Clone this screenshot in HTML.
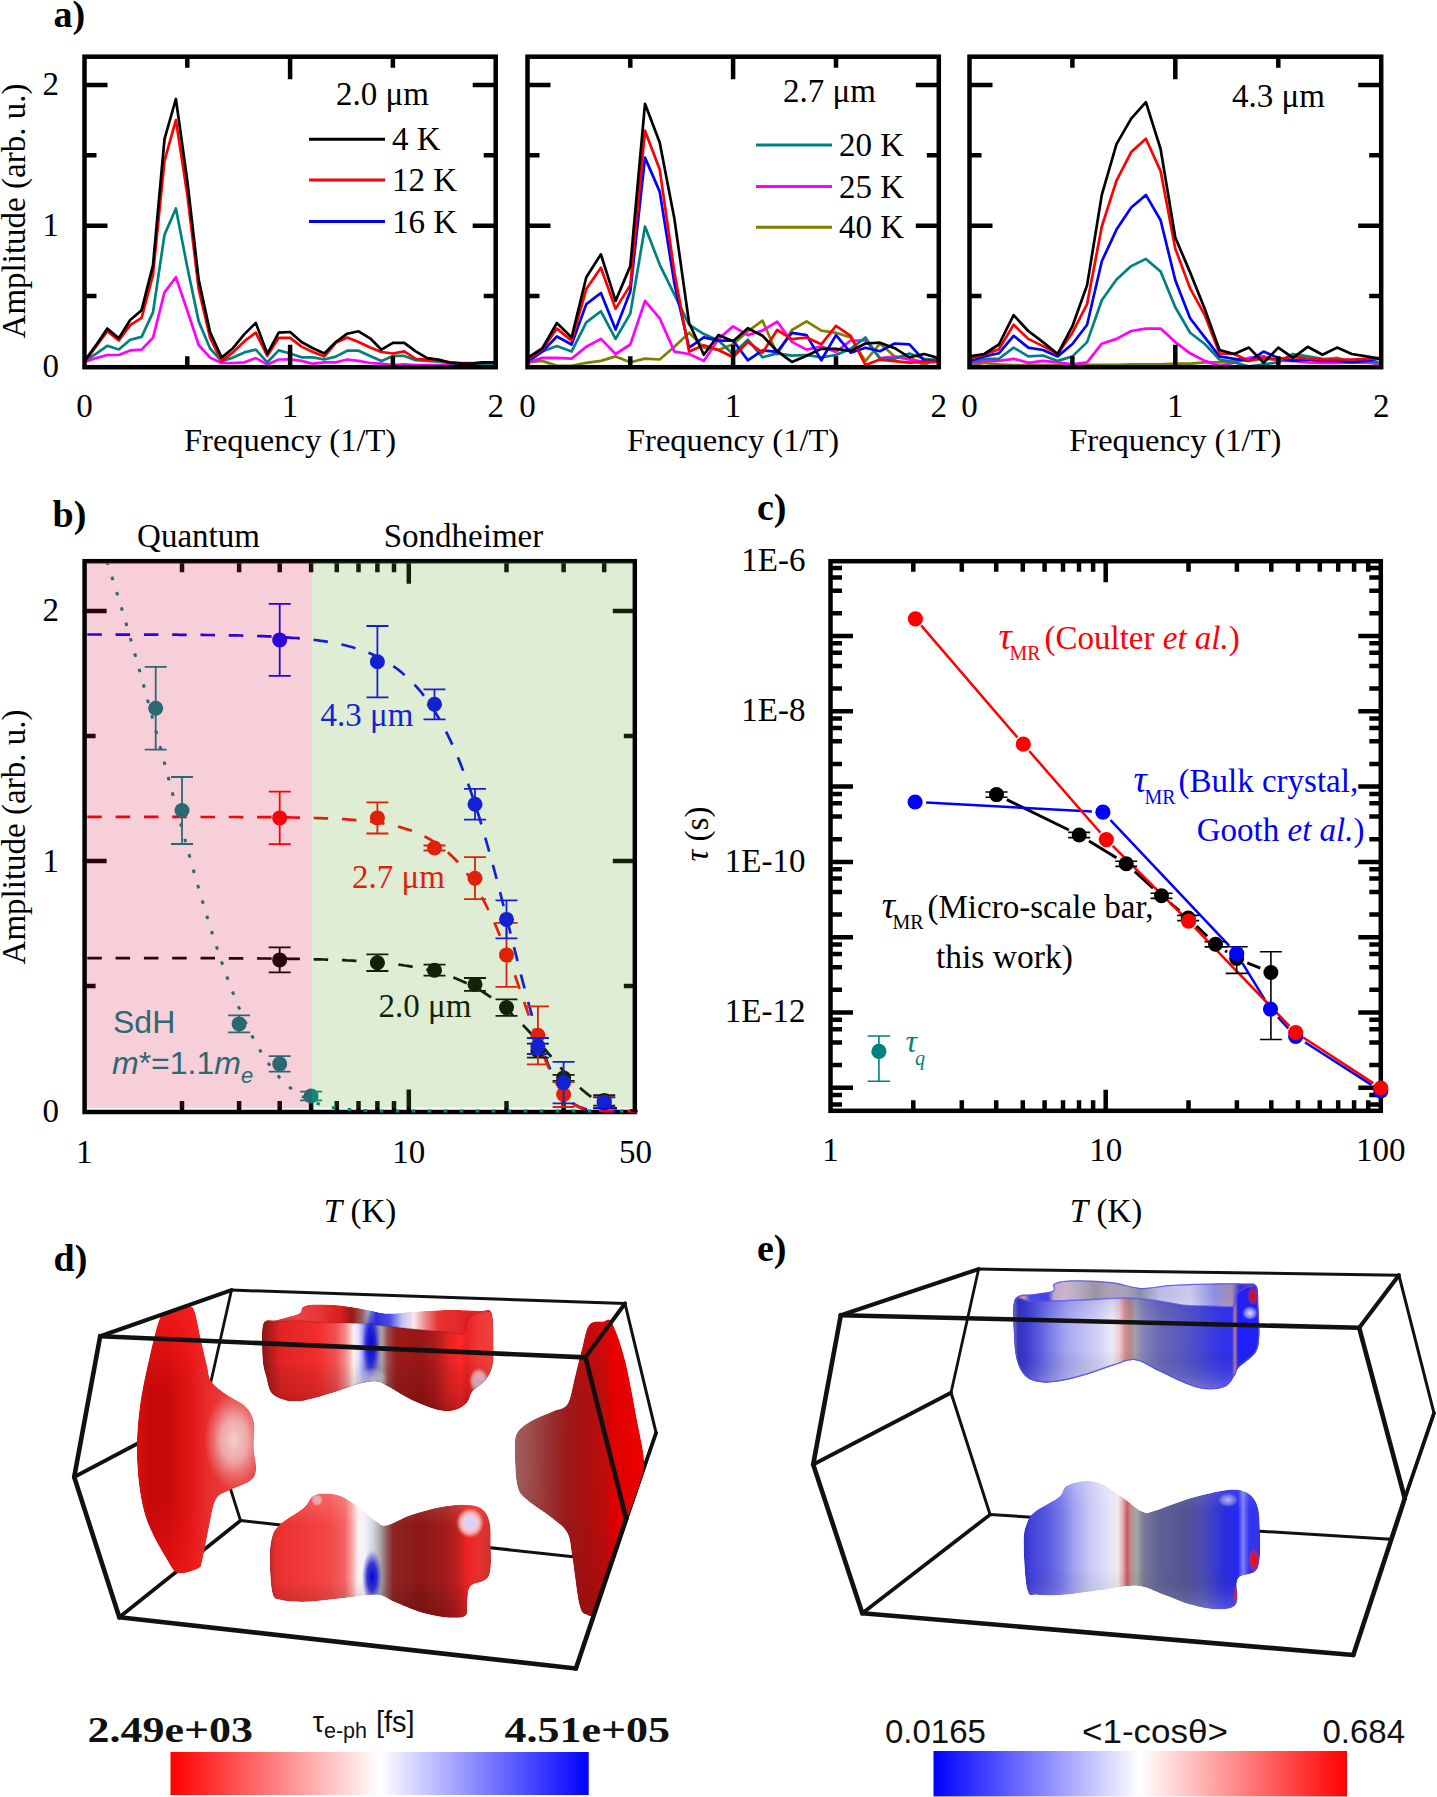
<!DOCTYPE html>
<html><head><meta charset="utf-8"><style>
html,body{margin:0;padding:0;background:#fff;overflow:hidden;}
svg{display:block;}
text{font-family:"Liberation Serif",serif;}
.tl{font-size:33px;fill:#000;}
.plab{font-size:38px;font-weight:bold;fill:#000;}
.sans{font-family:"Liberation Sans",sans-serif;}
</style></head><body>
<svg width="1437" height="1797" viewBox="0 0 1437 1797">
<rect width="1437" height="1797" fill="#fff"/>
<text x="53.5" y="26.5" class="plab">a)</text>
<text x="59" y="377.3" class="tl" text-anchor="end">0</text>
<text x="59" y="236.3" class="tl" text-anchor="end">1</text>
<text x="59" y="95.3" class="tl" text-anchor="end">2</text>
<text transform="translate(25,211) rotate(-90)" class="tl" text-anchor="middle">Amplitude (arb. u.)</text>
<polyline points="84.5,362.1 95.9,358.1 107.3,355 118.8,355 130.2,350.4 141.6,349.6 153,337.8 164.5,292.4 175.9,277.2 187.3,310.6 198.7,345 210.1,357.6 221.6,363 233,363 244.4,362.3 255.8,358.1 267.3,364.4 278.7,359.5 290.1,359.3 301.5,360.9 312.9,363.7 324.4,362.3 335.8,362.3 347.2,359.5 358.6,360.9 370.1,363 381.5,363.7 392.9,365.1 404.3,364.4 415.7,365.1 427.2,365.1 438.6,365.1 450,365.1 461.4,365.1 472.9,365.1 484.3,365.1 495.7,365.1" fill="none" stroke="#ff00ff" stroke-width="2.7" stroke-linejoin="round"/>
<polyline points="84.5,361.1 95.9,353.8 107.3,345.8 118.8,349.5 130.2,339.7 141.6,336.9 153,312.4 164.5,234.7 175.9,208.5 187.3,267.2 198.7,321.4 210.1,348.5 221.6,361.1 233,357.6 244.4,352.4 255.8,349.6 267.3,362.3 278.7,350.4 290.1,353.5 301.5,357.3 312.9,357.3 324.4,359.5 335.8,356.6 347.2,350.7 358.6,350.7 370.1,355.9 381.5,360.9 392.9,355.9 404.3,355.9 415.7,360.2 427.2,360.9 438.6,361.6 450,363 461.4,363.7 472.9,363.7 484.3,363.7 495.7,363.7" fill="none" stroke="#008080" stroke-width="2.7" stroke-linejoin="round"/>
<polyline points="84.5,362.1 95.9,346.8 107.3,331.3 118.8,340.5 130.2,325.1 141.6,317.9 153,274.6 164.5,160.7 175.9,120.1 187.3,194.7 198.7,289.1 210.1,337.8 221.6,361.1 233,352.4 244.4,341.2 255.8,332.7 267.3,355.8 278.7,337.8 290.1,337.9 301.5,346.6 312.9,352 324.4,356.5 335.8,342.8 347.2,337.5 358.6,342 370.1,347.5 381.5,352 392.9,353.5 404.3,351.3 415.7,358.8 427.2,359.6 438.6,360.3 450,362.3 461.4,363 472.9,363 484.3,362.3 495.7,363" fill="none" stroke="#ff0000" stroke-width="2.7" stroke-linejoin="round"/>
<polyline points="84.5,361.1 95.9,345.4 107.3,328.5 118.8,338.3 130.2,320 141.6,310.2 153,265.1 164.5,139.1 175.9,99 187.3,180.6 198.7,279.9 210.1,332.3 221.6,357.6 233,348.2 244.4,334.1 255.8,322.9 267.3,353.8 278.7,332.7 290.1,332 301.5,342 312.9,348.2 324.4,353.5 335.8,342 347.2,333.7 358.6,331.3 370.1,338.3 381.5,349.7 392.9,342.8 404.3,342.8 415.7,351.3 427.2,358.1 438.6,359.6 450,362.7 461.4,363.7 472.9,363.7 484.3,362.3 495.7,362.3" fill="none" stroke="#000000" stroke-width="2.7" stroke-linejoin="round"/>
<path d="M187.3,56.7V67.7M187.3,367.2V356.2M290.1,56.7V79.2M290.1,367.2V344.7M392.9,56.7V67.7M392.9,367.2V356.2M84.5,296.1H96.5M495.7,296.1H483.7M84.5,225.7H107.5M495.7,225.7H472.7M84.5,155.3H96.5M495.7,155.3H483.7M84.5,84.9H107.5M495.7,84.9H472.7" stroke="#000" stroke-width="4.5" fill="none"/>
<rect x="84.5" y="56.7" width="411.2" height="310.5" fill="none" stroke="#000" stroke-width="4.5"/>
<text x="84.5" y="417" class="tl" text-anchor="middle">0</text>
<text x="290.1" y="417" class="tl" text-anchor="middle">1</text>
<text x="495.7" y="417" class="tl" text-anchor="middle">2</text>
<text x="290.1" y="451" class="tl" text-anchor="middle" style="font-size:32.5px">Frequency (1/T)</text>
<text x="336" y="105" class="tl">2.0 μm</text>
<path d="M309,139.3H385" stroke="#000000" stroke-width="3"/>
<text x="392" y="150.3" class="tl">4 K</text>
<path d="M309,180H385" stroke="#ff0000" stroke-width="3"/>
<text x="392" y="191" class="tl">12 K</text>
<path d="M309,221.5H385" stroke="#0000ff" stroke-width="3"/>
<text x="392" y="232.5" class="tl">16 K</text>
<polyline points="527.5,362.3 542.2,360.9 556.9,365.9 571.6,365.9 586.3,362.8 600.9,360.9 615.6,356.4 630.3,362.3 645,358.6 659.7,359.5 674.4,346.8 689.1,332.7 703.8,347.6 718.5,350 733.1,344.3 747.8,331.3 762.5,320.6 777.2,354.3 791.9,330 806.6,321.3 821.3,330.6 836,332.8 850.7,337.5 865.4,361.1 880,343.5 894.7,356.5 909.4,357.3 924.1,365 938.8,357.3" fill="none" stroke="#808000" stroke-width="2.7" stroke-linejoin="round"/>
<polyline points="527.5,362.8 542.2,357.9 556.9,357.9 571.6,358.6 586.3,346.8 600.9,338.9 615.6,354 630.3,344.5 645,300.9 659.7,318.3 674.4,351.6 689.1,354 703.8,360.9 718.5,338.9 733.1,326.4 747.8,335.1 762.5,330.6 777.2,321.7 791.9,341.9 806.6,349.6 821.3,346.5 836,351.9 850.7,340.5 865.4,340.5 880,358.1 894.7,356.5 909.4,359.6 924.1,361.9 938.8,361.9" fill="none" stroke="#ff00ff" stroke-width="2.7" stroke-linejoin="round"/>
<polyline points="527.5,362.3 542.2,351.6 556.9,346.1 571.6,351.6 586.3,322.4 600.9,311.3 615.6,338.9 630.3,313.6 645,226.5 659.7,264.6 674.4,294.6 689.1,324.7 703.8,334.1 718.5,340.6 733.1,354.3 747.8,339.7 762.5,357.3 777.2,353.4 791.9,355.7 806.6,355 821.3,357.3 836,355 850.7,348.8 865.4,337.5 880,358.8 894.7,358.8 909.4,353.4 924.1,358.8 938.8,360.3" fill="none" stroke="#008080" stroke-width="2.7" stroke-linejoin="round"/>
<polyline points="527.5,360.9 542.2,351.6 556.9,336.5 571.6,344.5 586.3,304.1 600.9,293 615.6,329.5 630.3,291.5 645,157.6 659.7,191.6 674.4,283.6 689.1,347.6 703.8,337.4 718.5,340.6 733.1,340.5 747.8,360.3 762.5,350.4 777.2,351.9 791.9,332.8 806.6,335.1 821.3,360.3 836,335.1 850.7,352.7 865.4,347.8 880,351.2 894.7,343.5 909.4,344.3 924.1,360.3 938.8,361.1" fill="none" stroke="#0000ff" stroke-width="2.7" stroke-linejoin="round"/>
<polyline points="527.5,359.5 542.2,349.6 556.9,328.6 571.6,340.6 586.3,289.1 600.9,267.7 615.6,308.9 630.3,285.1 645,130.7 659.7,169.4 674.4,272.4 689.1,351.6 703.8,345.2 718.5,350 733.1,357.3 747.8,341.9 762.5,352.7 777.2,330 791.9,339.2 806.6,337.5 821.3,344.3 836,325.9 850.7,335.8 865.4,365 880,359.6 894.7,361.1 909.4,362.6 924.1,361.9 938.8,361.9" fill="none" stroke="#ff0000" stroke-width="2.7" stroke-linejoin="round"/>
<polyline points="527.5,357.9 542.2,348.5 556.9,323 571.6,337.4 586.3,277.2 600.9,254.3 615.6,300.9 630.3,266.1 645,103.8 659.7,142.5 674.4,218.7 689.1,323 703.8,354.8 718.5,335 733.1,341.2 747.8,328.2 762.5,335.8 777.2,351.2 791.9,361.9 806.6,355.7 821.3,348.8 836,348.8 850.7,351 865.4,343.5 880,342.7 894.7,348.2 909.4,357.3 924.1,354 938.8,358.1" fill="none" stroke="#000000" stroke-width="2.7" stroke-linejoin="round"/>
<path d="M630.3,56.7V67.7M630.3,367.2V356.2M733.1,56.7V79.2M733.1,367.2V344.7M836,56.7V67.7M836,367.2V356.2M527.5,296.1H539.5M938.8,296.1H926.8M527.5,225.7H550.5M938.8,225.7H915.8M527.5,155.3H539.5M938.8,155.3H926.8M527.5,84.9H550.5M938.8,84.9H915.8" stroke="#000" stroke-width="4.5" fill="none"/>
<rect x="527.5" y="56.7" width="411.3" height="310.5" fill="none" stroke="#000" stroke-width="4.5"/>
<text x="527.5" y="417" class="tl" text-anchor="middle">0</text>
<text x="733.1" y="417" class="tl" text-anchor="middle">1</text>
<text x="938.8" y="417" class="tl" text-anchor="middle">2</text>
<text x="733.1" y="451" class="tl" text-anchor="middle" style="font-size:32.5px">Frequency (1/T)</text>
<text x="783" y="102" class="tl">2.7 μm</text>
<path d="M756,145H832" stroke="#008080" stroke-width="3"/>
<text x="839" y="156" class="tl">20 K</text>
<path d="M756,186.6H832" stroke="#ff00ff" stroke-width="3"/>
<text x="839" y="197.6" class="tl">25 K</text>
<path d="M756,227.3H832" stroke="#808000" stroke-width="3"/>
<text x="839" y="238.3" class="tl">40 K</text>
<polyline points="969.5,365.9 984.2,362.8 998.9,364.4 1013.6,365.1 1028.3,365.1 1043,365.1 1057.7,365.1 1072.4,365.1 1087.1,364.8 1101.8,364.8 1116.5,364.8 1131.2,364.4 1145.9,364.4 1160.6,364.4 1175.3,363.7 1190.1,363.7 1204.8,362.3 1219.5,362.3 1234.2,360.9 1248.9,359.5 1263.6,358.8 1278.3,359.5 1293,359.5 1307.7,360.2 1322.4,359.5 1337.1,357.9 1351.8,362.3 1366.5,362.3 1381.2,363" fill="none" stroke="#808000" stroke-width="2.7" stroke-linejoin="round"/>
<polyline points="969.5,363.7 984.2,360.9 998.9,360.9 1013.6,358.8 1028.3,362.8 1043,360.9 1057.7,362.3 1072.4,364.4 1087.1,362.3 1101.8,343.7 1116.5,338.9 1131.2,331 1145.9,328.6 1160.6,328.6 1175.3,342.1 1190.1,353.3 1204.8,360.9 1219.5,365.9 1234.2,362.8 1248.9,357.9 1263.6,356.4 1278.3,360.9 1293,360.9 1307.7,362.3 1322.4,362.8 1337.1,362.8 1351.8,362.3 1366.5,362.3 1381.2,364.4" fill="none" stroke="#ff00ff" stroke-width="2.7" stroke-linejoin="round"/>
<polyline points="969.5,362.8 984.2,358.8 998.9,358.8 1013.6,347.6 1028.3,356.4 1043,355.5 1057.7,360.9 1072.4,356.4 1087.1,342.1 1101.8,300.2 1116.5,279.5 1131.2,266.1 1145.9,258.9 1160.6,271.6 1175.3,307.2 1190.1,332.7 1204.8,344 1219.5,359.5 1234.2,362.3 1248.9,366.5 1263.6,364.4 1278.3,362.3 1293,354 1307.7,356.4 1322.4,358.8 1337.1,359.5 1351.8,360.9 1366.5,360.9 1381.2,362.3" fill="none" stroke="#008080" stroke-width="2.7" stroke-linejoin="round"/>
<polyline points="969.5,360.9 984.2,356.4 998.9,353.3 1013.6,335.8 1028.3,347.6 1043,350 1057.7,356.4 1072.4,344 1087.1,324.7 1101.8,261.3 1116.5,229.6 1131.2,207.5 1145.9,194.9 1160.6,220.2 1175.3,280.3 1190.1,318.3 1204.8,337.4 1219.5,356.4 1234.2,358.8 1248.9,360.9 1263.6,351.6 1278.3,357.9 1293,360.9 1307.7,359.5 1322.4,360.9 1337.1,360.9 1351.8,362.3 1366.5,360.9 1381.2,357.9" fill="none" stroke="#0000ff" stroke-width="2.7" stroke-linejoin="round"/>
<polyline points="969.5,358.8 984.2,354.8 998.9,349.2 1013.6,324.7 1028.3,338.9 1043,346.1 1057.7,354 1072.4,332.7 1087.1,304.1 1101.8,226.5 1116.5,180.6 1131.2,152.1 1145.9,138.7 1160.6,171.1 1175.3,248.7 1190.1,288.4 1204.8,315.1 1219.5,353.3 1234.2,354 1248.9,360.9 1263.6,357.9 1278.3,359.5 1293,356.4 1307.7,358.8 1322.4,359.5 1337.1,359.5 1351.8,359.5 1366.5,358.8 1381.2,357.9" fill="none" stroke="#ff0000" stroke-width="2.7" stroke-linejoin="round"/>
<polyline points="969.5,356.4 984.2,354 998.9,344.5 1013.6,315.1 1028.3,331 1043,342.1 1057.7,354 1072.4,326.2 1087.1,285.1 1101.8,194.9 1116.5,144.2 1131.2,118.7 1145.9,102.2 1160.6,149 1175.3,237.5 1190.1,272.4 1204.8,308.9 1219.5,350 1234.2,354 1248.9,347.6 1263.6,362.7 1278.3,347.6 1293,357.9 1307.7,346.8 1322.4,354.8 1337.1,347.6 1351.8,354 1366.5,356.4 1381.2,358.8" fill="none" stroke="#000000" stroke-width="2.7" stroke-linejoin="round"/>
<path d="M1072.4,56.7V67.7M1072.4,367.2V356.2M1175.3,56.7V79.2M1175.3,367.2V344.7M1278.3,56.7V67.7M1278.3,367.2V356.2M969.5,296.1H981.5M1381.2,296.1H1369.2M969.5,225.7H992.5M1381.2,225.7H1358.2M969.5,155.3H981.5M1381.2,155.3H1369.2M969.5,84.9H992.5M1381.2,84.9H1358.2" stroke="#000" stroke-width="4.5" fill="none"/>
<rect x="969.5" y="56.7" width="411.7" height="310.5" fill="none" stroke="#000" stroke-width="4.5"/>
<text x="969.5" y="417" class="tl" text-anchor="middle">0</text>
<text x="1175.3" y="417" class="tl" text-anchor="middle">1</text>
<text x="1381.2" y="417" class="tl" text-anchor="middle">2</text>
<text x="1175.3" y="451" class="tl" text-anchor="middle" style="font-size:32.5px">Frequency (1/T)</text>
<text x="1232" y="107" class="tl">4.3 μm</text>
<text x="52.5" y="527" class="plab">b)</text>
<text x="198.5" y="546.5" class="tl" text-anchor="middle">Quantum</text>
<text x="463.5" y="546.5" class="tl" text-anchor="middle">Sondheimer</text>
<rect x="84.6" y="561.2" width="550.2" height="550.8" fill="none" stroke="#000" stroke-width="4.5"/>
<svg x="82.1" y="563.2" width="555.2" height="551.3" viewBox="82.1 563.2 555.2 551.3" overflow="hidden">
<path d="M182,561.2V572.2M182,1112V1101M239.1,561.2V572.2M239.1,1112V1101M279.7,561.2V572.2M279.7,1112V1101M311.1,561.2V572.2M311.1,1112V1101M336.8,561.2V572.2M336.8,1112V1101M358.5,561.2V572.2M358.5,1112V1101M377.4,561.2V572.2M377.4,1112V1101M394,561.2V572.2M394,1112V1101M408.8,561.2V583.7M408.8,1112V1089.5M506.5,561.2V572.2M506.5,1112V1101M563.6,561.2V572.2M563.6,1112V1101M604.2,561.2V572.2M604.2,1112V1101M84.6,986H95.6M634.8,986H623.8M84.6,861H106.6M634.8,861H612.8M84.6,735.9H95.6M634.8,735.9H623.8M84.6,610.9H106.6M634.8,610.9H612.8" stroke="#000" stroke-width="4.5" fill="none"/>
<polyline points="91.2,516.2 93.1,521.4 95,526.7 96.9,532 98.8,537.4 100.7,542.9 102.6,548.5 104.5,554.2 106.4,559.9 108.3,565.7 110.2,571.6 112.1,577.5 114,583.5 115.9,589.6 117.8,595.8 119.7,602 121.6,608.3 123.5,614.7 125.4,621.1 127.3,627.5 129.2,634.1 131.1,640.7 133,647.3 134.9,654 136.8,660.8 138.7,667.6 140.6,674.4 142.5,681.3 144.4,688.2 146.3,695.2 148.2,702.2 150.1,709.2 152,716.3 153.9,723.4 155.8,730.5 157.7,737.6 159.6,744.7 161.5,751.9 163.4,759 165.3,766.2 167.2,773.3 169.1,780.5 171,787.6 172.9,794.8 174.8,801.9 176.7,809 178.6,816.1 180.5,823.1 182.4,830.1 184.3,837.1 186.2,844.1 188.1,851 190,857.8 191.9,864.6 193.8,871.4 195.7,878.1 197.6,884.7 199.5,891.3 201.4,897.8 203.3,904.2 205.2,910.5 207.1,916.8 209,923 210.9,929.1 212.8,935.1 214.7,941 216.6,946.9 218.5,952.6 220.4,958.2 222.3,963.8 224.2,969.2 226.1,974.5 228,979.7 229.9,984.8 231.8,989.8 233.7,994.7 235.6,999.5 237.5,1004.1 239.4,1008.7 241.3,1013.1 243.2,1017.4 245.1,1021.6 247,1025.6 248.9,1029.6 250.8,1033.4 252.7,1037.1 254.6,1040.7 256.5,1044.2 258.4,1047.5 260.3,1050.8 262.2,1053.9 264.1,1056.9 266,1059.8 267.9,1062.6 269.8,1065.3 271.7,1067.9 273.6,1070.4 275.5,1072.7 277.4,1075 279.3,1077.2 281.2,1079.2 283.1,1081.2 285,1083.1 286.9,1084.9 288.8,1086.6 290.7,1088.2 292.6,1089.7 294.5,1091.2 296.4,1092.6 298.3,1093.9 300.2,1095.1 302.1,1096.2 304,1097.3 305.9,1098.4 307.8,1099.3 309.7,1100.2 311.6,1101.1 313.5,1101.9 315.4,1102.6 317.3,1103.3 319.2,1104 321.1,1104.6 323,1105.1 324.9,1105.6 326.8,1106.1 328.7,1106.6 330.6,1107 332.5,1107.4 334.4,1107.7 336.3,1108 338.2,1108.3 340.1,1108.6 342,1108.8 343.9,1109.1 345.8,1109.3 347.7,1109.5 349.6,1109.6 351.5,1109.8 353.4,1109.9 355.3,1110.1 357.2,1110.2 359.1,1110.3 361,1110.4 362.9,1110.5 364.8,1110.5 366.7,1110.6 368.6,1110.7 370.5,1110.7 372.4,1110.8 374.3,1110.8 376.2,1110.8 378.1,1110.9 380,1110.9 381.9,1110.9 383.8,1111 385.7,1111 387.6,1111 389.5,1111 391.4,1111 393.3,1111 395.2,1111 397.1,1111 399,1111.1 400.9,1111.1 402.8,1111.1 404.7,1111.1 406.7,1111.1 408.6,1111.1 410.5,1111.1 412.4,1111.1 414.3,1111.1 416.2,1111.1 418.1,1111.1 420,1111.1 421.9,1111.1 423.8,1111.1 425.7,1111.1 427.6,1111.1 429.5,1111.1 431.4,1111.1 433.3,1111.1 435.2,1111.1 437.1,1111.1 439,1111.1 440.9,1111.1 442.8,1111.1 444.7,1111.1 446.6,1111.1 448.5,1111.1 450.4,1111.1 452.3,1111.1 454.2,1111.1 456.1,1111.1 458,1111.1 459.9,1111.1 461.8,1111.1 463.7,1111.1 465.6,1111.1 467.5,1111.1 469.4,1111.1 471.3,1111.1 473.2,1111.1 475.1,1111.1 477,1111.1 478.9,1111.1 480.8,1111.1 482.7,1111.1 484.6,1111.1 486.5,1111.1 488.4,1111.1 490.3,1111.1 492.2,1111.1 494.1,1111.1 496,1111.1 497.9,1111.1 499.8,1111.1 501.7,1111.1 503.6,1111.1 505.5,1111.1 507.4,1111.1 509.3,1111.1 511.2,1111.1 513.1,1111.1 515,1111.1 516.9,1111.1 518.8,1111.1 520.7,1111.1 522.6,1111.1 524.5,1111.1 526.4,1111.1 528.3,1111.1 530.2,1111.1 532.1,1111.1 534,1111.1 535.9,1111.1 537.8,1111.1 539.7,1111.1 541.6,1111.1 543.5,1111.1 545.4,1111.1 547.3,1111.1 549.2,1111.1 551.1,1111.1 553,1111.1 554.9,1111.1 556.8,1111.1 558.7,1111.1 560.6,1111.1 562.5,1111.1 564.4,1111.1 566.3,1111.1 568.2,1111.1 570.1,1111.1 572,1111.1 573.9,1111.1 575.8,1111.1 577.7,1111.1 579.6,1111.1 581.5,1111.1 583.4,1111.1 585.3,1111.1 587.2,1111.1 589.1,1111.1 591,1111.1 592.9,1111.1 594.8,1111.1 596.7,1111.1 598.6,1111.1 600.5,1111.1 602.4,1111.1 604.3,1111.1 606.2,1111.1 608.1,1111.1 610,1111.1 611.9,1111.1 613.8,1111.1 615.7,1111.1 617.6,1111.1 619.5,1111.1 621.4,1111.1 623.3,1111.1 625.2,1111.1 627.1,1111.1 629,1111.1 630.9,1111.1 632.8,1111.1 634.7,1111.1 636.6,1111.1 638.5,1111.1 640.4,1111.1 642.3,1111.1 644.2,1111.1 646.1,1111.1 648,1111.1 649.9,1111.1 651.8,1111.1 653.7,1111.1 655.6,1111.1 657.5,1111.1 659.4,1111.1 661.3,1111.1" fill="none" stroke="#008080" stroke-width="3" stroke-dasharray="3.5 12.5"/>
<polyline points="84.3,634.5 87.2,634.5 90.1,634.5 93,634.5 95.8,634.5 98.7,634.5 101.6,634.6 104.5,634.6 107.4,634.6 110.3,634.6 113.2,634.6 116,634.6 118.9,634.6 121.8,634.6 124.7,634.6 127.6,634.6 130.5,634.6 133.3,634.6 136.2,634.6 139.1,634.6 142,634.6 144.9,634.6 147.8,634.6 150.7,634.6 153.5,634.6 156.4,634.7 159.3,634.7 162.2,634.7 165.1,634.7 168,634.7 170.9,634.7 173.7,634.7 176.6,634.7 179.5,634.8 182.4,634.8 185.3,634.8 188.2,634.8 191,634.8 193.9,634.9 196.8,634.9 199.7,634.9 202.6,634.9 205.5,635 208.4,635 211.2,635 214.1,635.1 217,635.1 219.9,635.1 222.8,635.2 225.7,635.2 228.6,635.3 231.4,635.3 234.3,635.4 237.2,635.4 240.1,635.5 243,635.6 245.9,635.7 248.7,635.7 251.6,635.8 254.5,635.9 257.4,636 260.3,636.1 263.2,636.2 266.1,636.3 268.9,636.4 271.8,636.6 274.7,636.7 277.6,636.9 280.5,637 283.4,637.2 286.3,637.4 289.1,637.6 292,637.8 294.9,638 297.8,638.2 300.7,638.5 303.6,638.7 306.4,639 309.3,639.3 312.2,639.7 315.1,640 318,640.4 320.9,640.8 323.8,641.2 326.6,641.6 329.5,642.1 332.4,642.6 335.3,643.2 338.2,643.8 341.1,644.4 344,645 346.8,645.7 349.7,646.5 352.6,647.3 355.5,648.2 358.4,649.1 361.3,650 364.1,651.1 367,652.2 369.9,653.3 372.8,654.6 375.7,655.9 378.6,657.3 381.5,658.8 384.3,660.5 387.2,662.2 390.1,664 393,665.9 395.9,668 398.8,670.1 401.7,672.5 404.5,674.9 407.4,677.5 410.3,680.3 413.2,683.2 416.1,686.4 419,689.7 421.9,693.2 424.7,696.9 427.6,700.8 430.5,704.9 433.4,709.3 436.3,713.9 439.2,718.8 442,724 444.9,729.4 447.8,735.1 450.7,741.1 453.6,747.4 456.5,754 459.4,760.9 462.2,768.2 465.1,775.7 468,783.6 470.9,791.8 473.8,800.4 476.7,809.3 479.6,818.5 482.4,828 485.3,837.8 488.2,848 491.1,858.3 494,869 496.9,879.9 499.7,890.9 502.6,902.2 505.5,913.5 508.4,925 511.3,936.5 514.2,948 517.1,959.4 519.9,970.7 522.8,981.9 525.7,992.8 528.6,1003.5 531.5,1013.8 534.4,1023.8 537.3,1033.3 540.1,1042.3 543,1050.7 545.9,1058.6 548.8,1065.9 551.7,1072.6 554.6,1078.6 557.4,1084 560.3,1088.8 563.2,1093 566.1,1096.6 569,1099.7 571.9,1102.2 574.8,1104.3 577.6,1106 580.5,1107.4 583.4,1108.4 586.3,1109.2 589.2,1109.8 592.1,1110.2 595,1110.5 597.8,1110.7 600.7,1110.9 603.6,1111 606.5,1111 609.4,1111.1 612.3,1111.1 615.1,1111.1 618,1111.1 620.9,1111.1 623.8,1111.1 626.7,1111.1 629.6,1111.1 632.5,1111.1 635.3,1111.1 638.2,1111.1 641.1,1111.1 644,1111.1 646.9,1111.1 649.8,1111.1 652.7,1111.1 655.5,1111.1 658.4,1111.1 661.3,1111.1" fill="none" stroke="#0000ff" stroke-width="2.7" stroke-dasharray="14.5 13.8" stroke-dashoffset="-3"/>
<polyline points="84.3,816.9 87.2,816.9 90.1,816.9 93,816.9 95.8,816.9 98.7,816.9 101.6,816.9 104.5,816.9 107.4,816.9 110.3,816.9 113.2,816.9 116,816.9 118.9,816.9 121.8,816.9 124.7,816.9 127.6,816.9 130.5,816.9 133.3,816.9 136.2,816.9 139.1,816.9 142,816.9 144.9,816.9 147.8,816.9 150.7,816.9 153.5,816.9 156.4,816.9 159.3,816.9 162.2,816.9 165.1,816.9 168,816.9 170.9,816.9 173.7,816.9 176.6,816.9 179.5,816.9 182.4,816.9 185.3,816.9 188.2,816.9 191,816.9 193.9,816.9 196.8,817 199.7,817 202.6,817 205.5,817 208.4,817 211.2,817 214.1,817 217,817 219.9,817 222.8,817 225.7,817 228.6,817 231.4,817 234.3,817 237.2,817 240.1,817.1 243,817.1 245.9,817.1 248.7,817.1 251.6,817.1 254.5,817.1 257.4,817.1 260.3,817.2 263.2,817.2 266.1,817.2 268.9,817.2 271.8,817.2 274.7,817.3 277.6,817.3 280.5,817.3 283.4,817.4 286.3,817.4 289.1,817.4 292,817.5 294.9,817.5 297.8,817.6 300.7,817.6 303.6,817.7 306.4,817.8 309.3,817.8 312.2,817.9 315.1,818 318,818.1 320.9,818.2 323.8,818.3 326.6,818.4 329.5,818.5 332.4,818.6 335.3,818.7 338.2,818.9 341.1,819 344,819.2 346.8,819.4 349.7,819.6 352.6,819.8 355.5,820.1 358.4,820.3 361.3,820.6 364.1,820.9 367,821.2 369.9,821.5 372.8,821.9 375.7,822.3 378.6,822.7 381.5,823.2 384.3,823.7 387.2,824.2 390.1,824.8 393,825.4 395.9,826.1 398.8,826.8 401.7,827.6 404.5,828.5 407.4,829.4 410.3,830.3 413.2,831.4 416.1,832.5 419,833.8 421.9,835.1 424.7,836.5 427.6,838 430.5,839.6 433.4,841.4 436.3,843.3 439.2,845.3 442,847.4 444.9,849.7 447.8,852.2 450.7,854.9 453.6,857.7 456.5,860.7 459.4,864 462.2,867.4 465.1,871.1 468,875 470.9,879.1 473.8,883.5 476.7,888.2 479.6,893.1 482.4,898.3 485.3,903.7 488.2,909.5 491.1,915.5 494,921.9 496.9,928.5 499.7,935.3 502.6,942.5 505.5,949.9 508.4,957.5 511.3,965.3 514.2,973.3 517.1,981.5 519.9,989.7 522.8,998.1 525.7,1006.5 528.6,1014.8 531.5,1023.1 534.4,1031.2 537.3,1039.2 540.1,1046.9 543,1054.3 545.9,1061.4 548.8,1068 551.7,1074.2 554.6,1079.8 557.4,1085 560.3,1089.6 563.2,1093.7 566.1,1097.2 569,1100.3 571.9,1102.8 574.8,1104.9 577.6,1106.5 580.5,1107.8 583.4,1108.8 586.3,1109.6 589.2,1110.1 592.1,1110.5 595,1110.7 597.8,1110.9 600.7,1111 603.6,1111 606.5,1111.1 609.4,1111.1 612.3,1111.1 615.1,1111.1 618,1111.1 620.9,1111.1 623.8,1111.1 626.7,1111.1 629.6,1111.1 632.5,1111.1 635.3,1111.1 638.2,1111.1 641.1,1111.1 644,1111.1 646.9,1111.1 649.8,1111.1 652.7,1111.1 655.5,1111.1 658.4,1111.1 661.3,1111.1" fill="none" stroke="#ff0000" stroke-width="2.7" stroke-dasharray="14.5 13.8" stroke-dashoffset="-3"/>
<polyline points="84.3,958.1 87.2,958.1 90.1,958.1 93,958.1 95.8,958.1 98.7,958.1 101.6,958.1 104.5,958.1 107.4,958.1 110.3,958.1 113.2,958.1 116,958.1 118.9,958.1 121.8,958.1 124.7,958.1 127.6,958.1 130.5,958.1 133.3,958.1 136.2,958.1 139.1,958.1 142,958.1 144.9,958.1 147.8,958.1 150.7,958.1 153.5,958.1 156.4,958.1 159.3,958.1 162.2,958.1 165.1,958.1 168,958.1 170.9,958.1 173.7,958.2 176.6,958.2 179.5,958.2 182.4,958.2 185.3,958.2 188.2,958.2 191,958.2 193.9,958.2 196.8,958.2 199.7,958.2 202.6,958.2 205.5,958.2 208.4,958.2 211.2,958.2 214.1,958.2 217,958.2 219.9,958.3 222.8,958.3 225.7,958.3 228.6,958.3 231.4,958.3 234.3,958.3 237.2,958.3 240.1,958.3 243,958.4 245.9,958.4 248.7,958.4 251.6,958.4 254.5,958.4 257.4,958.4 260.3,958.5 263.2,958.5 266.1,958.5 268.9,958.5 271.8,958.6 274.7,958.6 277.6,958.6 280.5,958.7 283.4,958.7 286.3,958.7 289.1,958.8 292,958.8 294.9,958.9 297.8,958.9 300.7,959 303.6,959 306.4,959.1 309.3,959.1 312.2,959.2 315.1,959.3 318,959.3 320.9,959.4 323.8,959.5 326.6,959.6 329.5,959.7 332.4,959.8 335.3,959.9 338.2,960 341.1,960.1 344,960.2 346.8,960.4 349.7,960.5 352.6,960.6 355.5,960.8 358.4,961 361.3,961.1 364.1,961.3 367,961.5 369.9,961.7 372.8,962 375.7,962.2 378.6,962.4 381.5,962.7 384.3,963 387.2,963.3 390.1,963.6 393,963.9 395.9,964.3 398.8,964.6 401.7,965 404.5,965.5 407.4,965.9 410.3,966.4 413.2,966.9 416.1,967.4 419,967.9 421.9,968.5 424.7,969.2 427.6,969.8 430.5,970.5 433.4,971.2 436.3,972 439.2,972.8 442,973.7 444.9,974.6 447.8,975.5 450.7,976.6 453.6,977.6 456.5,978.7 459.4,979.9 462.2,981.2 465.1,982.5 468,983.8 470.9,985.3 473.8,986.8 476.7,988.3 479.6,990 482.4,991.7 485.3,993.5 488.2,995.4 491.1,997.4 494,999.5 496.9,1001.6 499.7,1003.9 502.6,1006.2 505.5,1008.6 508.4,1011.1 511.3,1013.7 514.2,1016.4 517.1,1019.1 519.9,1022 522.8,1024.9 525.7,1027.9 528.6,1031 531.5,1034.1 534.4,1037.3 537.3,1040.5 540.1,1043.8 543,1047.1 545.9,1050.5 548.8,1053.8 551.7,1057.2 554.6,1060.6 557.4,1063.9 560.3,1067.2 563.2,1070.5 566.1,1073.6 569,1076.8 571.9,1079.8 574.8,1082.7 577.6,1085.5 580.5,1088.2 583.4,1090.7 586.3,1093.1 589.2,1095.3 592.1,1097.4 595,1099.3 597.8,1101 600.7,1102.6 603.6,1103.9 606.5,1105.2 609.4,1106.3 612.3,1107.2 615.1,1108 618,1108.6 620.9,1109.2 623.8,1109.6 626.7,1110 629.6,1110.3 632.5,1110.5 635.3,1110.7 638.2,1110.8 641.1,1110.9 644,1111 646.9,1111 649.8,1111 652.7,1111.1 655.5,1111.1 658.4,1111.1 661.3,1111.1" fill="none" stroke="#000000" stroke-width="2.7" stroke-dasharray="14.5 13.8" stroke-dashoffset="-3"/>
<path d="M155.7,666.9V749.7M144.7,666.9H166.7M144.7,749.7H166.7" stroke="#008080" stroke-width="1.8" fill="none"/><circle cx="155.7" cy="708.3" r="7.5" fill="#008080"/>
<path d="M182,777V844M171,777H193M171,844H193" stroke="#008080" stroke-width="1.8" fill="none"/><circle cx="182" cy="810.5" r="7.5" fill="#008080"/>
<path d="M239.1,1015.4V1032.4M228.1,1015.4H250.1M228.1,1032.4H250.1" stroke="#008080" stroke-width="1.8" fill="none"/><circle cx="239.1" cy="1023.9" r="7.5" fill="#008080"/>
<path d="M279.7,1056.1V1071.7M268.7,1056.1H290.7M268.7,1071.7H290.7" stroke="#008080" stroke-width="1.8" fill="none"/><circle cx="279.7" cy="1063.9" r="7.5" fill="#008080"/>
<path d="M311.1,1091.7V1100.3M300.1,1091.7H322.1M300.1,1100.3H322.1" stroke="#008080" stroke-width="1.8" fill="none"/><circle cx="311.1" cy="1096" r="7.5" fill="#008080"/>
<path d="M279.7,947.4V972.4M268.7,947.4H290.7M268.7,972.4H290.7" stroke="#000000" stroke-width="1.8" fill="none"/><circle cx="279.7" cy="959.9" r="7.5" fill="#000000"/>
<path d="M377.4,954.4V971M366.4,954.4H388.4M366.4,971H388.4" stroke="#000000" stroke-width="1.8" fill="none"/><circle cx="377.4" cy="962.7" r="7.5" fill="#000000"/>
<path d="M434.5,964.7V975.7M423.5,964.7H445.5M423.5,975.7H445.5" stroke="#000000" stroke-width="1.8" fill="none"/><circle cx="434.5" cy="970.2" r="7.5" fill="#000000"/>
<path d="M475,978V990.8M464,978H486M464,990.8H486" stroke="#000000" stroke-width="1.8" fill="none"/><circle cx="475" cy="984.4" r="7.5" fill="#000000"/>
<path d="M506.5,999.3V1015.9M495.5,999.3H517.5M495.5,1015.9H517.5" stroke="#000000" stroke-width="1.8" fill="none"/><circle cx="506.5" cy="1007.6" r="7.5" fill="#000000"/>
<path d="M537.9,1043.7V1057.7M526.9,1043.7H548.9M526.9,1057.7H548.9" stroke="#000000" stroke-width="1.8" fill="none"/><circle cx="537.9" cy="1050.7" r="7.5" fill="#000000"/>
<path d="M563.6,1074.9V1080.9M552.6,1074.9H574.6M552.6,1080.9H574.6" stroke="#000000" stroke-width="1.8" fill="none"/><circle cx="563.6" cy="1077.9" r="7.5" fill="#000000"/>
<path d="M604.2,1095.1V1105.7M593.2,1095.1H615.2M593.2,1105.7H615.2" stroke="#000000" stroke-width="1.8" fill="none"/><circle cx="604.2" cy="1100.4" r="7.5" fill="#000000"/>
<path d="M279.7,791.6V844.2M268.7,791.6H290.7M268.7,844.2H290.7" stroke="#ff0000" stroke-width="1.8" fill="none"/><circle cx="279.7" cy="817.9" r="7.5" fill="#ff0000"/>
<path d="M377.4,802.3V833.5M366.4,802.3H388.4M366.4,833.5H388.4" stroke="#ff0000" stroke-width="1.8" fill="none"/><circle cx="377.4" cy="817.9" r="7.5" fill="#ff0000"/>
<path d="M434.5,845.5V850.5M423.5,845.5H445.5M423.5,850.5H445.5" stroke="#ff0000" stroke-width="1.8" fill="none"/><circle cx="434.5" cy="848" r="7.5" fill="#ff0000"/>
<path d="M475,857.2V899.2M464,857.2H486M464,899.2H486" stroke="#ff0000" stroke-width="1.8" fill="none"/><circle cx="475" cy="878.2" r="7.5" fill="#ff0000"/>
<path d="M506.5,922.9V986.9M495.5,922.9H517.5M495.5,986.9H517.5" stroke="#ff0000" stroke-width="1.8" fill="none"/><circle cx="506.5" cy="954.9" r="7.5" fill="#ff0000"/>
<path d="M537.9,1006.3V1064.3M526.9,1006.3H548.9M526.9,1064.3H548.9" stroke="#ff0000" stroke-width="1.8" fill="none"/><circle cx="537.9" cy="1035.3" r="7.5" fill="#ff0000"/>
<path d="M563.6,1082V1107M552.6,1082H574.6M552.6,1107H574.6" stroke="#ff0000" stroke-width="1.8" fill="none"/><circle cx="563.6" cy="1094.5" r="7.5" fill="#ff0000"/>
<path d="M604.2,1097.1V1108.3M593.2,1097.1H615.2M593.2,1108.3H615.2" stroke="#ff0000" stroke-width="1.8" fill="none"/><circle cx="604.2" cy="1102.7" r="7.5" fill="#ff0000"/>
<path d="M279.7,603.9V675.9M268.7,603.9H290.7M268.7,675.9H290.7" stroke="#0000ff" stroke-width="1.8" fill="none"/><circle cx="279.7" cy="639.9" r="7.5" fill="#0000ff"/>
<path d="M377.4,626V697.4M366.4,626H388.4M366.4,697.4H388.4" stroke="#0000ff" stroke-width="1.8" fill="none"/><circle cx="377.4" cy="661.7" r="7.5" fill="#0000ff"/>
<path d="M434.5,689.3V719.3M423.5,689.3H445.5M423.5,719.3H445.5" stroke="#0000ff" stroke-width="1.8" fill="none"/><circle cx="434.5" cy="704.3" r="7.5" fill="#0000ff"/>
<path d="M475,788.8V819.6M464,788.8H486M464,819.6H486" stroke="#0000ff" stroke-width="1.8" fill="none"/><circle cx="475" cy="804.2" r="7.5" fill="#0000ff"/>
<path d="M506.5,900.4V938.4M495.5,900.4H517.5M495.5,938.4H517.5" stroke="#0000ff" stroke-width="1.8" fill="none"/><circle cx="506.5" cy="919.4" r="7.5" fill="#0000ff"/>
<path d="M537.9,1038V1054M526.9,1038H548.9M526.9,1054H548.9" stroke="#0000ff" stroke-width="1.8" fill="none"/><circle cx="537.9" cy="1046" r="7.5" fill="#0000ff"/>
<path d="M563.6,1061.9V1103.3M552.6,1061.9H574.6M552.6,1103.3H574.6" stroke="#0000ff" stroke-width="1.8" fill="none"/><circle cx="563.6" cy="1082.6" r="7.5" fill="#0000ff"/>
<path d="M604.2,1097.4V1108M593.2,1097.4H615.2M593.2,1108H615.2" stroke="#0000ff" stroke-width="1.8" fill="none"/><circle cx="604.2" cy="1102.7" r="7.5" fill="#0000ff"/>
<text x="320.5" y="725.5" class="tl" fill="#0000ff" style="fill:#0000ff">4.3 μm</text>
<text x="352" y="887.5" class="tl" style="fill:#ff0000">2.7 μm</text>
<text x="378.5" y="1016.5" class="tl" style="fill:#000">2.0 μm</text>
<text x="113" y="1032.5" class="sans" style="font-size:32px;fill:#008080">SdH</text>
<text x="112" y="1074" class="sans" style="font-size:32px;fill:#008080"><tspan font-style="italic">m</tspan>*=1.1<tspan font-style="italic">m</tspan><tspan font-style="italic" font-size="22px" dy="9">e</tspan></text>
</svg>
<rect x="86.9" y="561.5" width="225.1" height="546.3" fill="rgb(215,15,60)" fill-opacity="0.2"/>
<rect x="312" y="561.5" width="320.7" height="546.3" fill="rgb(95,165,45)" fill-opacity="0.2"/>
<text x="59" y="1121.6" class="tl" text-anchor="end">0</text>
<text x="59" y="871.5" class="tl" text-anchor="end">1</text>
<text x="59" y="621.4" class="tl" text-anchor="end">2</text>
<text x="84.3" y="1163" class="tl" text-anchor="middle">1</text>
<text x="408.8" y="1163" class="tl" text-anchor="middle">10</text>
<text x="635.6" y="1163" class="tl" text-anchor="middle">50</text>
<text x="360" y="1222" class="tl" text-anchor="middle"><tspan font-style="italic">T</tspan> (K)</text>
<text transform="translate(25,837) rotate(-90)" class="tl" text-anchor="middle">Amplitude (arb. u.)</text>
<text x="757" y="520" class="plab">c)</text>
<path d="M913.3,561.2V571.7M913.3,1110.8V1100.3M961.8,561.2V571.7M961.8,1110.8V1100.3M996.2,561.2V571.7M996.2,1110.8V1100.3M1022.8,561.2V571.7M1022.8,1110.8V1100.3M1044.6,561.2V571.7M1044.6,1110.8V1100.3M1063,561.2V571.7M1063,1110.8V1100.3M1079,561.2V571.7M1079,1110.8V1100.3M1093.1,561.2V571.7M1093.1,1110.8V1100.3M1105.7,561.2V582.2M1105.7,1110.8V1089.8M1188.5,561.2V571.7M1188.5,1110.8V1100.3M1236.9,561.2V571.7M1236.9,1110.8V1100.3M1271.3,561.2V571.7M1271.3,1110.8V1100.3M1298,561.2V571.7M1298,1110.8V1100.3M1319.8,561.2V571.7M1319.8,1110.8V1100.3M1338.2,561.2V571.7M1338.2,1110.8V1100.3M1354.1,561.2V571.7M1354.1,1110.8V1100.3M1368.2,561.2V571.7M1368.2,1110.8V1100.3M830.5,1087.8H853M1380.8,1087.8H1358.3M830.5,1065.1H842M1380.8,1065.1H1369.3M830.5,1042.5H842M1380.8,1042.5H1369.3M830.5,1029.2H842M1380.8,1029.2H1369.3M830.5,1019.8H842M1380.8,1019.8H1369.3M830.5,1012.5H853M1380.8,1012.5H1358.3M830.5,989.8H842M1380.8,989.8H1369.3M830.5,967.2H842M1380.8,967.2H1369.3M830.5,953.9H842M1380.8,953.9H1369.3M830.5,944.5H842M1380.8,944.5H1369.3M830.5,937.2H853M1380.8,937.2H1358.3M830.5,914.5H842M1380.8,914.5H1369.3M830.5,891.9H842M1380.8,891.9H1369.3M830.5,878.6H842M1380.8,878.6H1369.3M830.5,869.2H842M1380.8,869.2H1369.3M830.5,861.9H853M1380.8,861.9H1358.3M830.5,839.2H842M1380.8,839.2H1369.3M830.5,816.6H842M1380.8,816.6H1369.3M830.5,803.3H842M1380.8,803.3H1369.3M830.5,793.9H842M1380.8,793.9H1369.3M830.5,786.6H853M1380.8,786.6H1358.3M830.5,763.9H842M1380.8,763.9H1369.3M830.5,741.3H842M1380.8,741.3H1369.3M830.5,728H842M1380.8,728H1369.3M830.5,718.6H842M1380.8,718.6H1369.3M830.5,711.3H853M1380.8,711.3H1358.3M830.5,688.6H842M1380.8,688.6H1369.3M830.5,666H842M1380.8,666H1369.3M830.5,652.7H842M1380.8,652.7H1369.3M830.5,643.3H842M1380.8,643.3H1369.3M830.5,636H853M1380.8,636H1358.3M830.5,613.3H842M1380.8,613.3H1369.3M830.5,590.7H842M1380.8,590.7H1369.3M830.5,577.4H842M1380.8,577.4H1369.3M830.5,568H842M1380.8,568H1369.3M830.5,1095.1H842M1380.8,1095.1H1369.3M830.5,1104.5H842M1380.8,1104.5H1369.3" stroke="#000" stroke-width="4.5" fill="none"/>
<rect x="830.5" y="561.2" width="550.3" height="549.6" fill="none" stroke="#000" stroke-width="4.5"/>
<path d="M1006.8,799.6L1068.9,830M1089,841L1116.4,857.8M1134.7,871.5L1153,888.1M1170.3,903.2L1179.4,910.6M1196.5,926L1207.2,936.3M1225.1,950.7L1227.1,952M1247.3,962.8L1260.3,968.1" stroke="#000" stroke-width="2.9" fill="none"/>
<path d="M926.1,802.6L1091.9,811.6M1110.5,820.2L1229.1,945.7M1242.4,963.1L1264.8,999.7M1278,1017.2L1288.2,1028.3M1305,1042.3L1371.5,1084.9" stroke="#0000ff" stroke-width="2.5" fill="none"/>
<path d="M921.3,625.6L1017.4,737.4M1029.2,751L1100.4,832.8M1112.7,845.9L1182.2,914.9M1194.8,927.7L1289.5,1026.1M1303.2,1037.5L1373.3,1083.1" stroke="#ff0000" stroke-width="2.5" fill="none"/>
<path d="M996.5,792V797.2M985.5,792H1007.5M985.5,797.2H1007.5" stroke="#000" stroke-width="1.6" fill="none"/><circle cx="996.5" cy="794.6" r="7.5" fill="#000"/>
<path d="M1079.2,832.4V837.6M1068.2,832.4H1090.2M1068.2,837.6H1090.2" stroke="#000" stroke-width="1.6" fill="none"/><circle cx="1079.2" cy="835" r="7.5" fill="#000"/>
<path d="M1126.2,861.2V866.4M1115.2,861.2H1137.2M1115.2,866.4H1137.2" stroke="#000" stroke-width="1.6" fill="none"/><circle cx="1126.2" cy="863.8" r="7.5" fill="#000"/>
<path d="M1161.5,893.2V898.4M1150.5,893.2H1172.5M1150.5,898.4H1172.5" stroke="#000" stroke-width="1.6" fill="none"/><circle cx="1161.5" cy="895.8" r="7.5" fill="#000"/>
<path d="M1188.2,915.4V920.6M1177.2,915.4H1199.2M1177.2,920.6H1199.2" stroke="#000" stroke-width="1.6" fill="none"/><circle cx="1188.2" cy="918" r="7.5" fill="#000"/>
<path d="M1215.5,941.7V946.9M1204.5,941.7H1226.5M1204.5,946.9H1226.5" stroke="#000" stroke-width="1.6" fill="none"/><circle cx="1215.5" cy="944.3" r="7.5" fill="#000"/>
<path d="M1236.7,946.7V973.4M1225.7,946.7H1247.7M1225.7,973.4H1247.7" stroke="#000" stroke-width="1.6" fill="none"/><circle cx="1236.7" cy="958.4" r="7.5" fill="#000"/>
<path d="M1270.9,951.8V1039.5M1259.9,951.8H1281.9M1259.9,1039.5H1281.9" stroke="#000" stroke-width="1.6" fill="none"/><circle cx="1270.9" cy="972.5" r="7.5" fill="#000"/>
<circle cx="915.1" cy="802" r="7.6" fill="#0000ff"/>
<circle cx="1102.9" cy="812.2" r="7.6" fill="#0000ff"/>
<circle cx="1236.7" cy="953.7" r="7.6" fill="#0000ff"/>
<circle cx="1270.5" cy="1009.1" r="7.6" fill="#0000ff"/>
<circle cx="1295.7" cy="1036.4" r="7.6" fill="#0000ff"/>
<circle cx="1380.8" cy="1090.8" r="7.6" fill="#0000ff"/>
<circle cx="915.4" cy="618.8" r="7.6" fill="#ff0000"/>
<circle cx="1023.3" cy="744.2" r="7.6" fill="#ff0000"/>
<circle cx="1106.3" cy="839.6" r="7.6" fill="#ff0000"/>
<circle cx="1188.6" cy="921.2" r="7.6" fill="#ff0000"/>
<circle cx="1295.7" cy="1032.6" r="7.6" fill="#ff0000"/>
<circle cx="1380.8" cy="1088" r="7.6" fill="#ff0000"/>
<path d="M878.9,1036V1081.3M867.7,1036H890.1M867.7,1081.3H890.1" stroke="#008080" stroke-width="1.6" fill="none"/><circle cx="878.9" cy="1051.4" r="7.6" fill="#008080"/>
<text x="905.5" y="1052" style="font-size:32px;fill:#008080;font-style:italic">τ</text>
<text x="915" y="1064.5" style="font-size:20px;fill:#008080;font-style:italic">q</text>
<text x="998.5" y="648.7" style="font-size:37px;fill:#ff0000;font-style:italic">τ</text><text x="1009.5" y="659.9000000000001" style="font-size:20px;fill:#ff0000">MR</text><text x="1044.5" y="648.7" style="font-size:33px;fill:#ff0000">(Coulter <tspan font-style="italic">et al.</tspan>)</text>
<text x="1133.5" y="792.4" style="font-size:37px;fill:#0000ff;font-style:italic">τ</text><text x="1144.5" y="803.6" style="font-size:20px;fill:#0000ff">MR</text><text x="1178.5" y="792.4" style="font-size:33px;fill:#0000ff">(Bulk crystal,</text>
<text x="1364.5" y="840.8" style="font-size:33px;fill:#0000ff" text-anchor="end">Gooth <tspan font-style="italic">et al.</tspan>)</text>
<text x="881.8" y="918" style="font-size:37px;fill:#000;font-style:italic">τ</text><text x="892.5" y="929.2" style="font-size:20px;fill:#000">MR</text><text x="927.5" y="918" style="font-size:33px;fill:#000">(Micro-scale bar,</text>
<text x="936" y="967.6" style="font-size:33.5px;fill:#000">this work)</text>
<text x="805.5" y="570.5" class="tl" text-anchor="end">1E-6</text>
<text x="805.5" y="721.1" class="tl" text-anchor="end">1E-8</text>
<text x="805.5" y="871.7" class="tl" text-anchor="end">1E-10</text>
<text x="805.5" y="1022.3" class="tl" text-anchor="end">1E-12</text>
<text x="830.5" y="1160.5" class="tl" text-anchor="middle">1</text>
<text x="1105.7" y="1160.5" class="tl" text-anchor="middle">10</text>
<text x="1380.8" y="1160.5" class="tl" text-anchor="middle">100</text>
<text x="1106" y="1222" class="tl" text-anchor="middle"><tspan font-style="italic">T</tspan> (K)</text>
<text transform="translate(708,834) rotate(-90)" class="tl" text-anchor="middle"><tspan font-style="italic">τ</tspan> (s)</text>
<defs><linearGradient id="dup_back" gradientUnits="userSpaceOnUse" x1="262.7" y1="0" x2="493.4" y2="0"><stop offset="0.0000" stop-color="#d82828"/><stop offset="0.1530" stop-color="#f04848"/><stop offset="0.2397" stop-color="#f03838"/><stop offset="0.3351" stop-color="#e02020"/><stop offset="0.3871" stop-color="#a01818"/><stop offset="0.4304" stop-color="#a06060"/><stop offset="0.4564" stop-color="#a8a8c0"/><stop offset="0.4911" stop-color="#3030e0"/><stop offset="0.5518" stop-color="#5050f0"/><stop offset="0.6038" stop-color="#c8c8f8"/><stop offset="0.6558" stop-color="#fff0f0"/><stop offset="0.7035" stop-color="#f49090"/><stop offset="0.7599" stop-color="#f03434"/><stop offset="0.8986" stop-color="#e82424"/><stop offset="1.0000" stop-color="#f03434"/></linearGradient><linearGradient id="dup_front" gradientUnits="userSpaceOnUse" x1="262.7" y1="0" x2="493.4" y2="0"><stop offset="0.0000" stop-color="#8c1818"/><stop offset="0.0316" stop-color="#b01c1c"/><stop offset="0.0750" stop-color="#e02424"/><stop offset="0.2397" stop-color="#f42c2c"/><stop offset="0.3177" stop-color="#f25050"/><stop offset="0.3611" stop-color="#f59090"/><stop offset="0.3958" stop-color="#fff2f2"/><stop offset="0.4174" stop-color="#d8d8ff"/><stop offset="0.4391" stop-color="#9090f0"/><stop offset="0.4651" stop-color="#5050d0"/><stop offset="0.4911" stop-color="#8080a8"/><stop offset="0.5171" stop-color="#a8a0a8"/><stop offset="0.5431" stop-color="#a04848"/><stop offset="0.5778" stop-color="#9c1c1c"/><stop offset="0.6818" stop-color="#961616"/><stop offset="0.7512" stop-color="#b01c1c"/><stop offset="0.8032" stop-color="#e02424"/><stop offset="0.8552" stop-color="#ff2626"/><stop offset="0.8856" stop-color="#e82222"/><stop offset="0.9246" stop-color="#f03434"/><stop offset="1.0000" stop-color="#f04040"/></linearGradient><linearGradient id="dup_v" gradientUnits="userSpaceOnUse" x1="0" y1="1310" x2="0" y2="1412"><stop offset="0.0000" stop-color="#000" stop-opacity="0"/><stop offset="0.4902" stop-color="#000" stop-opacity="0"/><stop offset="0.8333" stop-color="#400000" stop-opacity="0.18"/><stop offset="1.0000" stop-color="#400000" stop-opacity="0.3"/></linearGradient><radialGradient id="blue_spot" cx="0.5" cy="0.5" r="0.5"><stop offset="0" stop-color="#0808d0" stop-opacity="1"/><stop offset="0.5" stop-color="#1818d8" stop-opacity="0.85"/><stop offset="1" stop-color="#3030e0" stop-opacity="0"/></radialGradient><radialGradient id="white_spot" cx="0.5" cy="0.5" r="0.5"><stop offset="0" stop-color="#ffffff" stop-opacity="0.9"/><stop offset="0.6" stop-color="#f8f0f0" stop-opacity="0.5"/><stop offset="1" stop-color="#ffffff" stop-opacity="0"/></radialGradient><radialGradient id="lav_spot" cx="0.5" cy="0.5" r="0.5"><stop offset="0" stop-color="#d8d0ff" stop-opacity="1"/><stop offset="0.45" stop-color="#e8e0ff" stop-opacity="0.9"/><stop offset="0.7" stop-color="#ffffff" stop-opacity="0.6"/><stop offset="1" stop-color="#ffffff" stop-opacity="0"/></radialGradient><linearGradient id="dlo_g" gradientUnits="userSpaceOnUse" x1="269.8" y1="0" x2="490.7" y2="0"><stop offset="0.0000" stop-color="#b82828"/><stop offset="0.0281" stop-color="#e83030"/><stop offset="0.1367" stop-color="#f03838"/><stop offset="0.2725" stop-color="#f44848"/><stop offset="0.3404" stop-color="#f46464"/><stop offset="0.3721" stop-color="#f8a4a4"/><stop offset="0.3993" stop-color="#fff0f0"/><stop offset="0.4310" stop-color="#f2f2f8"/><stop offset="0.4672" stop-color="#d4d4e0"/><stop offset="0.4989" stop-color="#a8a8a8"/><stop offset="0.5260" stop-color="#906464"/><stop offset="0.5577" stop-color="#902424"/><stop offset="0.6799" stop-color="#8c1616"/><stop offset="0.7931" stop-color="#a01c1c"/><stop offset="0.8610" stop-color="#c82020"/><stop offset="0.8927" stop-color="#f02222"/><stop offset="0.9425" stop-color="#e83030"/><stop offset="1.0000" stop-color="#d03030"/></linearGradient><linearGradient id="dlo_v" gradientUnits="userSpaceOnUse" x1="0" y1="1493" x2="0" y2="1618"><stop offset="0.0000" stop-color="#fff" stop-opacity="0.18"/><stop offset="0.2560" stop-color="#fff" stop-opacity="0"/><stop offset="0.6960" stop-color="#000" stop-opacity="0"/><stop offset="1.0000" stop-color="#300000" stop-opacity="0.22"/></linearGradient><linearGradient id="dleft_g" gradientUnits="userSpaceOnUse" x1="136.8" y1="0" x2="256" y2="0"><stop offset="0.0000" stop-color="#d81010"/><stop offset="0.1107" stop-color="#c40808"/><stop offset="0.2785" stop-color="#cc0a0a"/><stop offset="0.4463" stop-color="#e01414"/><stop offset="0.5721" stop-color="#e82a2a"/><stop offset="0.7819" stop-color="#e84040"/><stop offset="1.0000" stop-color="#e84848"/></linearGradient><radialGradient id="pink_hi" cx="0.5" cy="0.5" r="0.5"><stop offset="0" stop-color="#f4d4d4" stop-opacity="0.95"/><stop offset="0.45" stop-color="#f0c0c0" stop-opacity="0.8"/><stop offset="1" stop-color="#f0a0a0" stop-opacity="0"/></radialGradient><linearGradient id="dleft_v" gradientUnits="userSpaceOnUse" x1="0" y1="1308" x2="0" y2="1573"><stop offset="0.0000" stop-color="#ff2020" stop-opacity="0.7"/><stop offset="0.3094" stop-color="#ff2020" stop-opacity="0.0"/><stop offset="0.7245" stop-color="#ff2020" stop-opacity="0"/><stop offset="1.0000" stop-color="#ff2020" stop-opacity="0.35"/></linearGradient><linearGradient id="dright_g" gradientUnits="userSpaceOnUse" x1="514.9" y1="0" x2="644.1" y2="0"><stop offset="0.0000" stop-color="#a06060"/><stop offset="0.1169" stop-color="#9c5050"/><stop offset="0.2562" stop-color="#983434"/><stop offset="0.3878" stop-color="#9c1c1c"/><stop offset="0.5426" stop-color="#a81010"/><stop offset="0.6974" stop-color="#c00c0c"/><stop offset="0.7515" stop-color="#e00000"/><stop offset="1.0000" stop-color="#f00000"/></linearGradient><linearGradient id="dright_v" gradientUnits="userSpaceOnUse" x1="0" y1="1321" x2="0" y2="1615"><stop offset="0.0000" stop-color="#ff0000" stop-opacity="0.35"/><stop offset="0.2687" stop-color="#ff0000" stop-opacity="0"/><stop offset="1.0000" stop-color="#000" stop-opacity="0.1"/></linearGradient><linearGradient id="eup_back" gradientUnits="userSpaceOnUse" x1="1014" y1="0" x2="1259.5" y2="0"><stop offset="0.0000" stop-color="#f04848"/><stop offset="0.0407" stop-color="#f0b0b0"/><stop offset="0.0652" stop-color="#5050f0"/><stop offset="0.1385" stop-color="#4848f0"/><stop offset="0.1629" stop-color="#e0c0c8"/><stop offset="0.2118" stop-color="#e8d0d8"/><stop offset="0.2688" stop-color="#d0c0c0"/><stop offset="0.3299" stop-color="#b0a8a8"/><stop offset="0.3910" stop-color="#c8b8b8"/><stop offset="0.4521" stop-color="#c0b8c0"/><stop offset="0.5132" stop-color="#a0a0a8"/><stop offset="0.5947" stop-color="#d8d8f2"/><stop offset="0.7169" stop-color="#e8e8fa"/><stop offset="0.8187" stop-color="#a0a0f0"/><stop offset="0.8880" stop-color="#c0a0b0"/><stop offset="0.9206" stop-color="#3030f0"/><stop offset="1.0000" stop-color="#ff3030"/></linearGradient><linearGradient id="eup_front" gradientUnits="userSpaceOnUse" x1="1014" y1="0" x2="1259.5" y2="0"><stop offset="0.0000" stop-color="#7878a8"/><stop offset="0.0163" stop-color="#3434b8"/><stop offset="0.0489" stop-color="#3a3ad0"/><stop offset="0.0978" stop-color="#5858e0"/><stop offset="0.1548" stop-color="#8080ea"/><stop offset="0.2200" stop-color="#a8a8f2"/><stop offset="0.2892" stop-color="#c0c0f4"/><stop offset="0.3503" stop-color="#d4d4f8"/><stop offset="0.3992" stop-color="#ecebf8"/><stop offset="0.4277" stop-color="#f0d0d4"/><stop offset="0.4521" stop-color="#d89090"/><stop offset="0.4725" stop-color="#b88888"/><stop offset="0.4929" stop-color="#a0a0a8"/><stop offset="0.5255" stop-color="#8484b8"/><stop offset="0.5947" stop-color="#6868b8"/><stop offset="0.6762" stop-color="#5a5ac0"/><stop offset="0.7576" stop-color="#4848d4"/><stop offset="0.8391" stop-color="#3434e8"/><stop offset="0.8880" stop-color="#3030f0"/><stop offset="0.9002" stop-color="#c08090"/><stop offset="0.9124" stop-color="#2020ff"/><stop offset="1.0000" stop-color="#2020f0"/></linearGradient><linearGradient id="eup_v" gradientUnits="userSpaceOnUse" x1="0" y1="1297" x2="0" y2="1390"><stop offset="0.0000" stop-color="#2020a0" stop-opacity="0.15"/><stop offset="0.2473" stop-color="#2020a0" stop-opacity="0"/><stop offset="0.5699" stop-color="#000" stop-opacity="0"/><stop offset="1.0000" stop-color="#ffffff" stop-opacity="0.25"/></linearGradient><linearGradient id="elo_g" gradientUnits="userSpaceOnUse" x1="1023.6" y1="0" x2="1259.7" y2="0"><stop offset="0.0000" stop-color="#3030c8"/><stop offset="0.0271" stop-color="#4040d8"/><stop offset="0.0906" stop-color="#5454e0"/><stop offset="0.1542" stop-color="#7474e8"/><stop offset="0.2177" stop-color="#a4a4f0"/><stop offset="0.2812" stop-color="#c8c8f6"/><stop offset="0.3659" stop-color="#e4e4fa"/><stop offset="0.3998" stop-color="#f4e8ee"/><stop offset="0.4210" stop-color="#e4a8b0"/><stop offset="0.4380" stop-color="#cc5a5a"/><stop offset="0.4549" stop-color="#b89090"/><stop offset="0.4803" stop-color="#a4a4a4"/><stop offset="0.5100" stop-color="#787898"/><stop offset="0.5777" stop-color="#606098"/><stop offset="0.6836" stop-color="#545494"/><stop offset="0.7683" stop-color="#4a4ab8"/><stop offset="0.8530" stop-color="#2c2ce0"/><stop offset="0.9081" stop-color="#2828f0"/><stop offset="0.9293" stop-color="#8080f8"/><stop offset="0.9547" stop-color="#3434f0"/><stop offset="1.0000" stop-color="#3434e8"/></linearGradient><linearGradient id="elo_v" gradientUnits="userSpaceOnUse" x1="0" y1="1481" x2="0" y2="1610"><stop offset="0.0000" stop-color="#ffffff" stop-opacity="0.15"/><stop offset="0.2248" stop-color="#ffffff" stop-opacity="0"/><stop offset="0.6899" stop-color="#000" stop-opacity="0"/><stop offset="1.0000" stop-color="#ffffff" stop-opacity="0.2"/></linearGradient><radialGradient id="red_spot" cx="0.5" cy="0.5" r="0.5"><stop offset="0" stop-color="#ff0000" stop-opacity="1"/><stop offset="0.5" stop-color="#ff1010" stop-opacity="0.8"/><stop offset="1" stop-color="#ff4040" stop-opacity="0"/></radialGradient><linearGradient id="cbd" x1="0" y1="0" x2="1" y2="0"><stop offset="0" stop-color="#ff0000"/><stop offset="0.5" stop-color="#ffffff"/><stop offset="1" stop-color="#0000ff"/></linearGradient><linearGradient id="cbe" x1="0" y1="0" x2="1" y2="0"><stop offset="0" stop-color="#0000ff"/><stop offset="0.5" stop-color="#ffffff"/><stop offset="1" stop-color="#ff0000"/></linearGradient></defs>
<text x="53.5" y="1270.5" class="plab">d)</text>
<text x="757" y="1261" class="plab">e)</text>
<path d="M231.5,1290.1L625,1303.5" stroke="#111" stroke-width="3.0" stroke-linecap="round"/>
<path d="M625,1303.5L656.1,1432.8" stroke="#111" stroke-width="3.0" stroke-linecap="round"/>
<path d="M656.1,1432.8L612.5,1561" stroke="#111" stroke-width="3.0" stroke-linecap="round"/>
<path d="M612.5,1561L240.5,1520.6" stroke="#111" stroke-width="3.0" stroke-linecap="round"/>
<path d="M240.5,1520.6L205,1408" stroke="#111" stroke-width="2.9" stroke-linecap="round"/>
<path d="M205,1408L231.5,1290.1" stroke="#111" stroke-width="2.8" stroke-linecap="round"/>
<path d="M74.2,1477L205,1408" stroke="#111" stroke-width="3.7" stroke-linecap="round"/>
<path d="M119.3,1617.3L240.5,1520.6" stroke="#111" stroke-width="3.7" stroke-linecap="round"/>
<path d="M626.2,1518.9L656.1,1432.8" stroke="#111" stroke-width="3.7" stroke-linecap="round"/>
<clipPath id="cp_dleft"><path d="M184.7,1307.9C187.3,1308.1 191,1304.2 193.6,1309C196.2,1313.8 198.1,1327.3 200.3,1336.8C202.5,1346.3 205.2,1358.4 207,1365.8C208.8,1373.2 208.1,1376.6 211.4,1381.4C214.7,1386.2 221.4,1390.6 227,1394.7C232.6,1398.8 240.4,1401.5 244.9,1405.9C249.4,1410.4 252.3,1414.4 253.8,1421.4C255.3,1428.5 253.4,1440 253.8,1448.2C254.2,1456.4 256.8,1464.8 256,1470.4C255.2,1476 253.8,1478.2 249.3,1481.6C244.9,1484.9 234.9,1487.5 229.3,1490.5C223.7,1493.5 219.2,1493.5 215.9,1499.4C212.6,1505.3 211.4,1516.1 209.2,1526.1C207,1536.1 204.3,1552.5 202.5,1559.5C200.7,1566.5 202.2,1566.2 198.1,1568.4C194,1570.6 183.2,1574.4 178,1572.9C172.8,1571.4 171.7,1567.3 166.9,1559.5C162.1,1551.7 153.6,1537.2 149.1,1526.1C144.6,1515 142.2,1505.7 140.2,1492.7C138.1,1479.7 136.8,1463.1 136.8,1448.2C136.8,1433.3 138.1,1418.4 140.2,1403.6C142.2,1388.8 146.1,1372.4 149.1,1359.1C152.1,1345.8 155.4,1331.3 158,1323.5C160.6,1315.7 161.4,1314.9 164.7,1312.3C168,1309.7 174.7,1308.6 178,1307.9C181.3,1307.2 182.1,1307.7 184.7,1307.9Z"/></clipPath><g clip-path="url(#cp_dleft)"><path d="M184.7,1307.9C187.3,1308.1 191,1304.2 193.6,1309C196.2,1313.8 198.1,1327.3 200.3,1336.8C202.5,1346.3 205.2,1358.4 207,1365.8C208.8,1373.2 208.1,1376.6 211.4,1381.4C214.7,1386.2 221.4,1390.6 227,1394.7C232.6,1398.8 240.4,1401.5 244.9,1405.9C249.4,1410.4 252.3,1414.4 253.8,1421.4C255.3,1428.5 253.4,1440 253.8,1448.2C254.2,1456.4 256.8,1464.8 256,1470.4C255.2,1476 253.8,1478.2 249.3,1481.6C244.9,1484.9 234.9,1487.5 229.3,1490.5C223.7,1493.5 219.2,1493.5 215.9,1499.4C212.6,1505.3 211.4,1516.1 209.2,1526.1C207,1536.1 204.3,1552.5 202.5,1559.5C200.7,1566.5 202.2,1566.2 198.1,1568.4C194,1570.6 183.2,1574.4 178,1572.9C172.8,1571.4 171.7,1567.3 166.9,1559.5C162.1,1551.7 153.6,1537.2 149.1,1526.1C144.6,1515 142.2,1505.7 140.2,1492.7C138.1,1479.7 136.8,1463.1 136.8,1448.2C136.8,1433.3 138.1,1418.4 140.2,1403.6C142.2,1388.8 146.1,1372.4 149.1,1359.1C152.1,1345.8 155.4,1331.3 158,1323.5C160.6,1315.7 161.4,1314.9 164.7,1312.3C168,1309.7 174.7,1308.6 178,1307.9C181.3,1307.2 182.1,1307.7 184.7,1307.9Z" fill="url(#dleft_g)"/><path d="M184.7,1307.9C187.3,1308.1 191,1304.2 193.6,1309C196.2,1313.8 198.1,1327.3 200.3,1336.8C202.5,1346.3 205.2,1358.4 207,1365.8C208.8,1373.2 208.1,1376.6 211.4,1381.4C214.7,1386.2 221.4,1390.6 227,1394.7C232.6,1398.8 240.4,1401.5 244.9,1405.9C249.4,1410.4 252.3,1414.4 253.8,1421.4C255.3,1428.5 253.4,1440 253.8,1448.2C254.2,1456.4 256.8,1464.8 256,1470.4C255.2,1476 253.8,1478.2 249.3,1481.6C244.9,1484.9 234.9,1487.5 229.3,1490.5C223.7,1493.5 219.2,1493.5 215.9,1499.4C212.6,1505.3 211.4,1516.1 209.2,1526.1C207,1536.1 204.3,1552.5 202.5,1559.5C200.7,1566.5 202.2,1566.2 198.1,1568.4C194,1570.6 183.2,1574.4 178,1572.9C172.8,1571.4 171.7,1567.3 166.9,1559.5C162.1,1551.7 153.6,1537.2 149.1,1526.1C144.6,1515 142.2,1505.7 140.2,1492.7C138.1,1479.7 136.8,1463.1 136.8,1448.2C136.8,1433.3 138.1,1418.4 140.2,1403.6C142.2,1388.8 146.1,1372.4 149.1,1359.1C152.1,1345.8 155.4,1331.3 158,1323.5C160.6,1315.7 161.4,1314.9 164.7,1312.3C168,1309.7 174.7,1308.6 178,1307.9C181.3,1307.2 182.1,1307.7 184.7,1307.9Z" fill="url(#dleft_v)"/><ellipse cx="234" cy="1440" rx="30" ry="48" fill="url(#pink_hi)"/></g>
<clipPath id="cp_dright"><path d="M589.1,1325C592.7,1320.4 599.6,1321.8 603.4,1321.5C607.2,1321.2 608.4,1316.6 612,1323C615.6,1329.4 620.8,1343.8 625,1360C629.2,1376.2 633.8,1403.1 637,1420C640.2,1436.9 643.7,1450.6 644.1,1461.5C644.5,1472.4 642.1,1475.8 639.3,1485.4C636.5,1495 631.4,1506.9 627.4,1518.9C623.4,1530.9 620.6,1542 615.4,1557.2C610.2,1572.4 601.1,1600.3 596.3,1609.9C591.5,1619.5 589.5,1615.5 586.7,1614.7C583.9,1613.9 581.9,1614.7 579.5,1605.1C577.1,1595.5 574.3,1569.2 572.3,1557.2C570.3,1545.2 570.7,1539.7 567.5,1533.3C564.3,1526.9 560,1524.5 553.2,1518.9C546.4,1513.3 532.9,1505.4 526.9,1499.8C520.9,1494.2 519.3,1493.8 517.3,1485.4C515.3,1477 514.9,1458.3 514.9,1449.5C514.9,1440.7 514.5,1437.6 517.3,1432.8C520.1,1428 525.6,1424.4 531.6,1420.8C537.6,1417.2 547.2,1414 553.2,1411.2C559.2,1408.4 563.9,1409.6 567.5,1404C571.1,1398.4 572.3,1386.9 574.7,1377.7C577.1,1368.5 579.5,1357.8 581.9,1349C584.3,1340.2 585.5,1329.6 589.1,1325Z"/></clipPath><g clip-path="url(#cp_dright)"><path d="M589.1,1325C592.7,1320.4 599.6,1321.8 603.4,1321.5C607.2,1321.2 608.4,1316.6 612,1323C615.6,1329.4 620.8,1343.8 625,1360C629.2,1376.2 633.8,1403.1 637,1420C640.2,1436.9 643.7,1450.6 644.1,1461.5C644.5,1472.4 642.1,1475.8 639.3,1485.4C636.5,1495 631.4,1506.9 627.4,1518.9C623.4,1530.9 620.6,1542 615.4,1557.2C610.2,1572.4 601.1,1600.3 596.3,1609.9C591.5,1619.5 589.5,1615.5 586.7,1614.7C583.9,1613.9 581.9,1614.7 579.5,1605.1C577.1,1595.5 574.3,1569.2 572.3,1557.2C570.3,1545.2 570.7,1539.7 567.5,1533.3C564.3,1526.9 560,1524.5 553.2,1518.9C546.4,1513.3 532.9,1505.4 526.9,1499.8C520.9,1494.2 519.3,1493.8 517.3,1485.4C515.3,1477 514.9,1458.3 514.9,1449.5C514.9,1440.7 514.5,1437.6 517.3,1432.8C520.1,1428 525.6,1424.4 531.6,1420.8C537.6,1417.2 547.2,1414 553.2,1411.2C559.2,1408.4 563.9,1409.6 567.5,1404C571.1,1398.4 572.3,1386.9 574.7,1377.7C577.1,1368.5 579.5,1357.8 581.9,1349C584.3,1340.2 585.5,1329.6 589.1,1325Z" fill="url(#dright_g)"/><path d="M589.1,1325C592.7,1320.4 599.6,1321.8 603.4,1321.5C607.2,1321.2 608.4,1316.6 612,1323C615.6,1329.4 620.8,1343.8 625,1360C629.2,1376.2 633.8,1403.1 637,1420C640.2,1436.9 643.7,1450.6 644.1,1461.5C644.5,1472.4 642.1,1475.8 639.3,1485.4C636.5,1495 631.4,1506.9 627.4,1518.9C623.4,1530.9 620.6,1542 615.4,1557.2C610.2,1572.4 601.1,1600.3 596.3,1609.9C591.5,1619.5 589.5,1615.5 586.7,1614.7C583.9,1613.9 581.9,1614.7 579.5,1605.1C577.1,1595.5 574.3,1569.2 572.3,1557.2C570.3,1545.2 570.7,1539.7 567.5,1533.3C564.3,1526.9 560,1524.5 553.2,1518.9C546.4,1513.3 532.9,1505.4 526.9,1499.8C520.9,1494.2 519.3,1493.8 517.3,1485.4C515.3,1477 514.9,1458.3 514.9,1449.5C514.9,1440.7 514.5,1437.6 517.3,1432.8C520.1,1428 525.6,1424.4 531.6,1420.8C537.6,1417.2 547.2,1414 553.2,1411.2C559.2,1408.4 563.9,1409.6 567.5,1404C571.1,1398.4 572.3,1386.9 574.7,1377.7C577.1,1368.5 579.5,1357.8 581.9,1349C584.3,1340.2 585.5,1329.6 589.1,1325Z" fill="url(#dright_v)"/></g>
<clipPath id="cp_dup"><path d="M263.6,1323.5C266,1317 271.2,1321.6 277.1,1319.9C283,1318.2 294.7,1315.6 298.9,1313.5C303.1,1311.4 300.1,1308.7 302.5,1307.2C304.9,1305.7 307,1304.8 313.3,1304.5C319.6,1304.2 331.4,1304.5 340.5,1305.4C349.6,1306.3 359.8,1308.6 367.6,1309.9C375.4,1311.2 380,1313.2 387.5,1313.5C395,1313.8 402.6,1312.3 412.8,1311.7C423.1,1311.1 437.8,1310.1 449,1309.9C460.2,1309.8 472.7,1310.3 479.8,1310.8C486.9,1311.2 489.2,1307 491.5,1312.6C493.8,1318.2 493.2,1335.4 493.4,1344.3C493.5,1353.2 493.8,1360 492.4,1366C491,1372 488.5,1376.3 485.2,1380.5C481.9,1384.7 475.5,1387.7 472.5,1391.3C469.5,1394.9 469.8,1399.2 467.1,1402.2C464.4,1405.2 460.8,1408.1 456.3,1409.4C451.8,1410.8 447.2,1411.8 440,1410.3C432.8,1408.8 421.6,1404.5 412.8,1400.4C404.1,1396.3 393.5,1389.1 387.5,1385.9C381.5,1382.7 381.5,1381.7 376.7,1381.4C371.9,1381.1 366.2,1382.1 358.6,1384.1C351.1,1386 340.4,1390.4 331.4,1393.1C322.3,1395.8 311.8,1399.2 304.3,1400.4C296.8,1401.6 291.6,1401.6 286.2,1400.4C280.8,1399.2 275,1397 271.7,1393.1C268.4,1389.2 267.8,1382.5 266.3,1376.8C264.8,1371.1 263.1,1367.7 262.7,1358.8C262.2,1349.9 261.2,1330 263.6,1323.5Z"/></clipPath><g clip-path="url(#cp_dup)"><path d="M263.6,1323.5C266,1317 271.2,1321.6 277.1,1319.9C283,1318.2 294.7,1315.6 298.9,1313.5C303.1,1311.4 300.1,1308.7 302.5,1307.2C304.9,1305.7 307,1304.8 313.3,1304.5C319.6,1304.2 331.4,1304.5 340.5,1305.4C349.6,1306.3 359.8,1308.6 367.6,1309.9C375.4,1311.2 380,1313.2 387.5,1313.5C395,1313.8 402.6,1312.3 412.8,1311.7C423.1,1311.1 437.8,1310.1 449,1309.9C460.2,1309.8 472.7,1310.3 479.8,1310.8C486.9,1311.2 489.2,1307 491.5,1312.6C493.8,1318.2 493.2,1335.4 493.4,1344.3C493.5,1353.2 493.8,1360 492.4,1366C491,1372 488.5,1376.3 485.2,1380.5C481.9,1384.7 475.5,1387.7 472.5,1391.3C469.5,1394.9 469.8,1399.2 467.1,1402.2C464.4,1405.2 460.8,1408.1 456.3,1409.4C451.8,1410.8 447.2,1411.8 440,1410.3C432.8,1408.8 421.6,1404.5 412.8,1400.4C404.1,1396.3 393.5,1389.1 387.5,1385.9C381.5,1382.7 381.5,1381.7 376.7,1381.4C371.9,1381.1 366.2,1382.1 358.6,1384.1C351.1,1386 340.4,1390.4 331.4,1393.1C322.3,1395.8 311.8,1399.2 304.3,1400.4C296.8,1401.6 291.6,1401.6 286.2,1400.4C280.8,1399.2 275,1397 271.7,1393.1C268.4,1389.2 267.8,1382.5 266.3,1376.8C264.8,1371.1 263.1,1367.7 262.7,1358.8C262.2,1349.9 261.2,1330 263.6,1323.5Z" fill="url(#dup_back)"/><path d="M263.6,1323.5C266,1317 271.2,1321.6 277.1,1319.9C283,1318.2 294.7,1315.6 298.9,1313.5C303.1,1311.4 300.1,1308.7 302.5,1307.2C304.9,1305.7 307,1304.8 313.3,1304.5C319.6,1304.2 331.4,1304.5 340.5,1305.4C349.6,1306.3 359.8,1308.6 367.6,1309.9C375.4,1311.2 380,1313.2 387.5,1313.5C395,1313.8 402.6,1312.3 412.8,1311.7C423.1,1311.1 437.8,1310.1 449,1309.9C460.2,1309.8 472.7,1310.3 479.8,1310.8C486.9,1311.2 489.2,1307 491.5,1312.6C493.8,1318.2 493.2,1335.4 493.4,1344.3C493.5,1353.2 493.8,1360 492.4,1366C491,1372 488.5,1376.3 485.2,1380.5C481.9,1384.7 475.5,1387.7 472.5,1391.3C469.5,1394.9 469.8,1399.2 467.1,1402.2C464.4,1405.2 460.8,1408.1 456.3,1409.4C451.8,1410.8 447.2,1411.8 440,1410.3C432.8,1408.8 421.6,1404.5 412.8,1400.4C404.1,1396.3 393.5,1389.1 387.5,1385.9C381.5,1382.7 381.5,1381.7 376.7,1381.4C371.9,1381.1 366.2,1382.1 358.6,1384.1C351.1,1386 340.4,1390.4 331.4,1393.1C322.3,1395.8 311.8,1399.2 304.3,1400.4C296.8,1401.6 291.6,1401.6 286.2,1400.4C280.8,1399.2 275,1397 271.7,1393.1C268.4,1389.2 267.8,1382.5 266.3,1376.8C264.8,1371.1 263.1,1367.7 262.7,1358.8C262.2,1349.9 261.2,1330 263.6,1323.5Z" fill="#000" fill-opacity="0.03"/><path d="M262.7,1324C264.1,1319.7 270.9,1322.4 275,1322C279.1,1321.6 292.8,1320.4 298,1320.5C303.2,1320.6 314.5,1322.2 320,1322.5C325.5,1322.8 340.3,1322.9 345,1323C349.7,1323.1 356.3,1323.3 360,1323.5C363.7,1323.7 372.6,1324.6 376.7,1325C380.8,1325.4 390.8,1326.5 395,1327C399.2,1327.5 406.7,1328.4 413,1329C419.3,1329.6 443.2,1332 449,1332.5C454.8,1333 460.9,1335 463,1333.5C465.1,1332 465.5,1322.3 467,1320C468.5,1317.7 473.1,1314.3 476,1313.5C478.9,1312.7 489.5,1309.2 491.5,1312.8C493.5,1316.4 493.3,1338.1 493.4,1344.3C493.5,1350.5 493.4,1361.8 492.4,1366C491.4,1370.2 487.5,1377.5 485.2,1380.5C482.9,1383.5 474.6,1388.8 472.5,1391.3C470.4,1393.8 469,1400.1 467.1,1402.2C465.2,1404.3 459.5,1408.5 456.3,1409.4C453.1,1410.3 445.1,1411.3 440,1410.3C434.9,1409.2 418.9,1403.2 412.8,1400.4C406.7,1397.6 391.7,1388.1 387.5,1385.9C383.3,1383.7 380.1,1381.6 376.7,1381.4C373.3,1381.2 363.9,1382.7 358.6,1384.1C353.3,1385.5 337.7,1391.2 331.4,1393.1C325.1,1395 309.6,1399.5 304.3,1400.4C299,1401.3 290,1401.3 286.2,1400.4C282.4,1399.5 274,1395.9 271.7,1393.1C269.4,1390.3 267.4,1380.8 266.3,1376.8C265.2,1372.8 263.1,1365 262.7,1358.8C262.3,1352.6 261.3,1328.3 262.7,1324Z" fill="url(#dup_front)"/><ellipse cx="371" cy="1345" rx="9" ry="34" fill="url(#blue_spot)"/><ellipse cx="372" cy="1380" rx="16" ry="13" fill="url(#white_spot)" opacity="0.75"/><ellipse cx="479" cy="1381" rx="10" ry="13" fill="url(#lav_spot)" opacity="0.85"/><path d="M263.6,1323.5C266,1317 271.2,1321.6 277.1,1319.9C283,1318.2 294.7,1315.6 298.9,1313.5C303.1,1311.4 300.1,1308.7 302.5,1307.2C304.9,1305.7 307,1304.8 313.3,1304.5C319.6,1304.2 331.4,1304.5 340.5,1305.4C349.6,1306.3 359.8,1308.6 367.6,1309.9C375.4,1311.2 380,1313.2 387.5,1313.5C395,1313.8 402.6,1312.3 412.8,1311.7C423.1,1311.1 437.8,1310.1 449,1309.9C460.2,1309.8 472.7,1310.3 479.8,1310.8C486.9,1311.2 489.2,1307 491.5,1312.6C493.8,1318.2 493.2,1335.4 493.4,1344.3C493.5,1353.2 493.8,1360 492.4,1366C491,1372 488.5,1376.3 485.2,1380.5C481.9,1384.7 475.5,1387.7 472.5,1391.3C469.5,1394.9 469.8,1399.2 467.1,1402.2C464.4,1405.2 460.8,1408.1 456.3,1409.4C451.8,1410.8 447.2,1411.8 440,1410.3C432.8,1408.8 421.6,1404.5 412.8,1400.4C404.1,1396.3 393.5,1389.1 387.5,1385.9C381.5,1382.7 381.5,1381.7 376.7,1381.4C371.9,1381.1 366.2,1382.1 358.6,1384.1C351.1,1386 340.4,1390.4 331.4,1393.1C322.3,1395.8 311.8,1399.2 304.3,1400.4C296.8,1401.6 291.6,1401.6 286.2,1400.4C280.8,1399.2 275,1397 271.7,1393.1C268.4,1389.2 267.8,1382.5 266.3,1376.8C264.8,1371.1 263.1,1367.7 262.7,1358.8C262.2,1349.9 261.2,1330 263.6,1323.5Z" fill="url(#dup_v)"/><path d="M262.7,1324C264.1,1319.7 270.9,1322.4 275,1322C279.1,1321.6 292.8,1320.4 298,1320.5C303.2,1320.6 314.5,1322.2 320,1322.5C325.5,1322.8 340.3,1322.9 345,1323C349.7,1323.1 356.3,1323.3 360,1323.5C363.7,1323.7 372.6,1324.6 376.7,1325C380.8,1325.4 390.8,1326.5 395,1327C399.2,1327.5 406.7,1328.4 413,1329C419.3,1329.6 443.2,1332 449,1332.5C454.8,1333 460.9,1335 463,1333.5C465.1,1332 465.5,1322.3 467,1320C468.5,1317.7 473.1,1314.3 476,1313.5C478.9,1312.7 489.5,1309.2 491.5,1312.8C493.5,1316.4 493.3,1338.1 493.4,1344.3C493.5,1350.5 493.4,1361.8 492.4,1366C491.4,1370.2 487.5,1377.5 485.2,1380.5C482.9,1383.5 474.6,1388.8 472.5,1391.3C470.4,1393.8 469,1400.1 467.1,1402.2C465.2,1404.3 459.5,1408.5 456.3,1409.4C453.1,1410.3 445.1,1411.3 440,1410.3C434.9,1409.2 418.9,1403.2 412.8,1400.4C406.7,1397.6 391.7,1388.1 387.5,1385.9C383.3,1383.7 380.1,1381.6 376.7,1381.4C373.3,1381.2 363.9,1382.7 358.6,1384.1C353.3,1385.5 337.7,1391.2 331.4,1393.1C325.1,1395 309.6,1399.5 304.3,1400.4C299,1401.3 290,1401.3 286.2,1400.4C282.4,1399.5 274,1395.9 271.7,1393.1C269.4,1390.3 267.4,1380.8 266.3,1376.8C265.2,1372.8 263.1,1365 262.7,1358.8C262.3,1352.6 261.3,1328.3 262.7,1324Z" fill="none" stroke="#000" stroke-opacity="0.12" stroke-width="1.5"/></g>
<clipPath id="cp_dlo"><path d="M272.4,1535.7C274.3,1529.9 275.9,1528.2 281.1,1523.5C286.3,1518.8 298.5,1512.3 303.7,1507.8C308.9,1503.3 308.9,1498.9 312.4,1496.5C315.9,1494.1 319.7,1493.6 324.6,1493.6C329.5,1493.6 336.2,1494.1 342,1496.5C347.8,1498.9 353.6,1503.6 359.4,1507.8C365.2,1512 372.2,1518.9 376.8,1521.8C381.4,1524.7 381.4,1526.4 387.2,1525.2C393,1524 401.7,1518 411.6,1514.8C421.5,1511.6 436.2,1507.7 446.4,1506.1C456.5,1504.5 466.1,1504.3 472.5,1505.2C478.9,1506.1 481.7,1508.2 484.6,1511.3C487.5,1514.3 488.9,1518.6 489.9,1523.5C490.9,1528.4 490.8,1532.2 490.7,1540.9C490.6,1549.6 492.3,1568.2 489,1575.7C485.7,1583.2 474.3,1581.8 470.7,1586.1C467.1,1590.4 468.1,1596.9 467.2,1601.8C466.3,1606.7 469,1613.1 465.5,1615.7C462,1618.3 453.9,1618 446.4,1617.4C438.9,1616.8 429,1614.8 420.3,1612.2C411.6,1609.6 401.4,1604.7 394.2,1601.8C386.9,1598.9 385.5,1595.4 376.8,1594.8C368.1,1594.2 353.6,1597.1 342,1598.3C330.4,1599.5 317.3,1601.5 307.2,1601.8C297.1,1602.1 286.9,1601.5 281.1,1600C275.3,1598.5 274.3,1600 272.4,1593.1C270.5,1586.1 269.8,1567.9 269.8,1558.3C269.8,1548.7 270.5,1541.5 272.4,1535.7Z"/></clipPath><g clip-path="url(#cp_dlo)"><path d="M272.4,1535.7C274.3,1529.9 275.9,1528.2 281.1,1523.5C286.3,1518.8 298.5,1512.3 303.7,1507.8C308.9,1503.3 308.9,1498.9 312.4,1496.5C315.9,1494.1 319.7,1493.6 324.6,1493.6C329.5,1493.6 336.2,1494.1 342,1496.5C347.8,1498.9 353.6,1503.6 359.4,1507.8C365.2,1512 372.2,1518.9 376.8,1521.8C381.4,1524.7 381.4,1526.4 387.2,1525.2C393,1524 401.7,1518 411.6,1514.8C421.5,1511.6 436.2,1507.7 446.4,1506.1C456.5,1504.5 466.1,1504.3 472.5,1505.2C478.9,1506.1 481.7,1508.2 484.6,1511.3C487.5,1514.3 488.9,1518.6 489.9,1523.5C490.9,1528.4 490.8,1532.2 490.7,1540.9C490.6,1549.6 492.3,1568.2 489,1575.7C485.7,1583.2 474.3,1581.8 470.7,1586.1C467.1,1590.4 468.1,1596.9 467.2,1601.8C466.3,1606.7 469,1613.1 465.5,1615.7C462,1618.3 453.9,1618 446.4,1617.4C438.9,1616.8 429,1614.8 420.3,1612.2C411.6,1609.6 401.4,1604.7 394.2,1601.8C386.9,1598.9 385.5,1595.4 376.8,1594.8C368.1,1594.2 353.6,1597.1 342,1598.3C330.4,1599.5 317.3,1601.5 307.2,1601.8C297.1,1602.1 286.9,1601.5 281.1,1600C275.3,1598.5 274.3,1600 272.4,1593.1C270.5,1586.1 269.8,1567.9 269.8,1558.3C269.8,1548.7 270.5,1541.5 272.4,1535.7Z" fill="url(#dlo_g)"/><ellipse cx="372" cy="1577" rx="10" ry="27" fill="url(#blue_spot)"/><ellipse cx="470" cy="1523" rx="14" ry="15" fill="url(#lav_spot)"/><ellipse cx="317" cy="1500" rx="6" ry="6" fill="url(#lav_spot)" opacity="0.6"/><path d="M272.4,1535.7C274.3,1529.9 275.9,1528.2 281.1,1523.5C286.3,1518.8 298.5,1512.3 303.7,1507.8C308.9,1503.3 308.9,1498.9 312.4,1496.5C315.9,1494.1 319.7,1493.6 324.6,1493.6C329.5,1493.6 336.2,1494.1 342,1496.5C347.8,1498.9 353.6,1503.6 359.4,1507.8C365.2,1512 372.2,1518.9 376.8,1521.8C381.4,1524.7 381.4,1526.4 387.2,1525.2C393,1524 401.7,1518 411.6,1514.8C421.5,1511.6 436.2,1507.7 446.4,1506.1C456.5,1504.5 466.1,1504.3 472.5,1505.2C478.9,1506.1 481.7,1508.2 484.6,1511.3C487.5,1514.3 488.9,1518.6 489.9,1523.5C490.9,1528.4 490.8,1532.2 490.7,1540.9C490.6,1549.6 492.3,1568.2 489,1575.7C485.7,1583.2 474.3,1581.8 470.7,1586.1C467.1,1590.4 468.1,1596.9 467.2,1601.8C466.3,1606.7 469,1613.1 465.5,1615.7C462,1618.3 453.9,1618 446.4,1617.4C438.9,1616.8 429,1614.8 420.3,1612.2C411.6,1609.6 401.4,1604.7 394.2,1601.8C386.9,1598.9 385.5,1595.4 376.8,1594.8C368.1,1594.2 353.6,1597.1 342,1598.3C330.4,1599.5 317.3,1601.5 307.2,1601.8C297.1,1602.1 286.9,1601.5 281.1,1600C275.3,1598.5 274.3,1600 272.4,1593.1C270.5,1586.1 269.8,1567.9 269.8,1558.3C269.8,1548.7 270.5,1541.5 272.4,1535.7Z" fill="url(#dlo_v)"/></g>
<path d="M100.2,1336.2L231.5,1290.1" stroke="#111" stroke-width="4.1" stroke-linecap="round"/>
<path d="M585.5,1357.4L625,1303.5" stroke="#111" stroke-width="4.1" stroke-linecap="round"/>
<path d="M100.2,1336.2L585.5,1357.4" stroke="#111" stroke-width="4.6" stroke-linecap="round"/>
<path d="M585.5,1357.4L626.2,1518.9" stroke="#111" stroke-width="4.6" stroke-linecap="round"/>
<path d="M626.2,1518.9L575.9,1668.5" stroke="#111" stroke-width="4.6" stroke-linecap="round"/>
<path d="M575.9,1668.5L119.3,1617.3" stroke="#111" stroke-width="4.6" stroke-linecap="round"/>
<path d="M119.3,1617.3L74.2,1477" stroke="#111" stroke-width="4.6" stroke-linecap="round"/>
<path d="M74.2,1477L100.2,1336.2" stroke="#111" stroke-width="4.6" stroke-linecap="round"/>
<path d="M978.6,1269.1L1398.9,1275.2" stroke="#111" stroke-width="3.0" stroke-linecap="round"/>
<path d="M1398.9,1275.2L1434,1413.1" stroke="#111" stroke-width="3.0" stroke-linecap="round"/>
<path d="M1434,1413.1L1390.7,1539.3" stroke="#111" stroke-width="3.0" stroke-linecap="round"/>
<path d="M1390.7,1539.3L990.1,1514.6" stroke="#111" stroke-width="3.0" stroke-linecap="round"/>
<path d="M990.1,1514.6L951,1392.8" stroke="#111" stroke-width="3.0" stroke-linecap="round"/>
<path d="M951,1392.8L978.6,1269.1" stroke="#111" stroke-width="2.8" stroke-linecap="round"/>
<path d="M813.2,1464.5L951,1392.8" stroke="#111" stroke-width="3.8" stroke-linecap="round"/>
<path d="M862.3,1613.3L990.1,1514.6" stroke="#111" stroke-width="3.7" stroke-linecap="round"/>
<path d="M1404.8,1498.4L1434,1413.1" stroke="#111" stroke-width="3.7" stroke-linecap="round"/>
<clipPath id="cp_eup"><path d="M1015,1299.1C1018.5,1292.1 1028.7,1295.4 1035,1294C1041.3,1292.6 1049.3,1292.5 1052.6,1290.7C1055.8,1288.9 1050.7,1284.9 1054.5,1283.2C1058.3,1281.5 1065.5,1280.5 1075.2,1280.3C1084.9,1280.1 1101.8,1280.9 1112.7,1282.2C1123.7,1283.5 1131.5,1287.4 1140.9,1287.9C1150.3,1288.4 1158.1,1285.7 1169.1,1285C1180.1,1284.3 1194.2,1283.8 1206.7,1283.5C1219.2,1283.2 1236,1283.1 1244.3,1283.5C1252.6,1283.9 1254.2,1282 1256.5,1286C1258.8,1290 1257.9,1299.3 1258.4,1307.6C1258.9,1315.9 1259.8,1328.3 1259.3,1335.8C1258.8,1343.3 1259,1347.4 1255.5,1352.7C1252,1358 1242,1364 1238.6,1367.7C1235.2,1371.5 1237.1,1372.1 1234.9,1375.2C1232.7,1378.3 1230.2,1384.2 1225.5,1386.5C1220.8,1388.8 1213,1389.6 1206.7,1389.3C1200.4,1389 1195.7,1387.6 1187.9,1384.6C1180.1,1381.6 1168.5,1375.6 1159.7,1371.5C1150.9,1367.4 1143.1,1361.2 1135.3,1360.2C1127.5,1359.2 1121.2,1363.3 1112.7,1365.8C1104.2,1368.3 1094,1372.5 1084.6,1375.2C1075.2,1377.9 1064.2,1380.7 1056.4,1381.8C1048.6,1382.9 1042.9,1382.9 1037.6,1381.8C1032.3,1380.7 1027.9,1378.8 1024.4,1375.2C1021,1371.6 1018.6,1366.8 1016.9,1360.2C1015.2,1353.6 1014.4,1346 1014.1,1335.8C1013.8,1325.6 1011.5,1306.1 1015,1299.1Z"/></clipPath><g clip-path="url(#cp_eup)"><path d="M1015,1299.1C1018.5,1292.1 1028.7,1295.4 1035,1294C1041.3,1292.6 1049.3,1292.5 1052.6,1290.7C1055.8,1288.9 1050.7,1284.9 1054.5,1283.2C1058.3,1281.5 1065.5,1280.5 1075.2,1280.3C1084.9,1280.1 1101.8,1280.9 1112.7,1282.2C1123.7,1283.5 1131.5,1287.4 1140.9,1287.9C1150.3,1288.4 1158.1,1285.7 1169.1,1285C1180.1,1284.3 1194.2,1283.8 1206.7,1283.5C1219.2,1283.2 1236,1283.1 1244.3,1283.5C1252.6,1283.9 1254.2,1282 1256.5,1286C1258.8,1290 1257.9,1299.3 1258.4,1307.6C1258.9,1315.9 1259.8,1328.3 1259.3,1335.8C1258.8,1343.3 1259,1347.4 1255.5,1352.7C1252,1358 1242,1364 1238.6,1367.7C1235.2,1371.5 1237.1,1372.1 1234.9,1375.2C1232.7,1378.3 1230.2,1384.2 1225.5,1386.5C1220.8,1388.8 1213,1389.6 1206.7,1389.3C1200.4,1389 1195.7,1387.6 1187.9,1384.6C1180.1,1381.6 1168.5,1375.6 1159.7,1371.5C1150.9,1367.4 1143.1,1361.2 1135.3,1360.2C1127.5,1359.2 1121.2,1363.3 1112.7,1365.8C1104.2,1368.3 1094,1372.5 1084.6,1375.2C1075.2,1377.9 1064.2,1380.7 1056.4,1381.8C1048.6,1382.9 1042.9,1382.9 1037.6,1381.8C1032.3,1380.7 1027.9,1378.8 1024.4,1375.2C1021,1371.6 1018.6,1366.8 1016.9,1360.2C1015.2,1353.6 1014.4,1346 1014.1,1335.8C1013.8,1325.6 1011.5,1306.1 1015,1299.1Z" fill="url(#eup_back)"/><path d="M1015,1299.1C1018.5,1292.1 1028.7,1295.4 1035,1294C1041.3,1292.6 1049.3,1292.5 1052.6,1290.7C1055.8,1288.9 1050.7,1284.9 1054.5,1283.2C1058.3,1281.5 1065.5,1280.5 1075.2,1280.3C1084.9,1280.1 1101.8,1280.9 1112.7,1282.2C1123.7,1283.5 1131.5,1287.4 1140.9,1287.9C1150.3,1288.4 1158.1,1285.7 1169.1,1285C1180.1,1284.3 1194.2,1283.8 1206.7,1283.5C1219.2,1283.2 1236,1283.1 1244.3,1283.5C1252.6,1283.9 1254.2,1282 1256.5,1286C1258.8,1290 1257.9,1299.3 1258.4,1307.6C1258.9,1315.9 1259.8,1328.3 1259.3,1335.8C1258.8,1343.3 1259,1347.4 1255.5,1352.7C1252,1358 1242,1364 1238.6,1367.7C1235.2,1371.5 1237.1,1372.1 1234.9,1375.2C1232.7,1378.3 1230.2,1384.2 1225.5,1386.5C1220.8,1388.8 1213,1389.6 1206.7,1389.3C1200.4,1389 1195.7,1387.6 1187.9,1384.6C1180.1,1381.6 1168.5,1375.6 1159.7,1371.5C1150.9,1367.4 1143.1,1361.2 1135.3,1360.2C1127.5,1359.2 1121.2,1363.3 1112.7,1365.8C1104.2,1368.3 1094,1372.5 1084.6,1375.2C1075.2,1377.9 1064.2,1380.7 1056.4,1381.8C1048.6,1382.9 1042.9,1382.9 1037.6,1381.8C1032.3,1380.7 1027.9,1378.8 1024.4,1375.2C1021,1371.6 1018.6,1366.8 1016.9,1360.2C1015.2,1353.6 1014.4,1346 1014.1,1335.8C1013.8,1325.6 1011.5,1306.1 1015,1299.1Z" fill="#000" fill-opacity="0.0"/><path d="M1014.3,1299.4C1016.1,1295.4 1025.2,1301.1 1029.4,1301.3C1033.6,1301.5 1044.9,1301.1 1050,1301C1055.1,1300.9 1067.1,1300.5 1073.2,1300.3C1079.3,1300.1 1096.4,1299.2 1102.4,1298.9C1108.4,1298.6 1119,1297.7 1125,1297.9C1131,1298.1 1147.4,1299.4 1154.2,1300.3C1161,1301.2 1176.7,1304.5 1183.5,1305.2C1190.3,1305.9 1206.9,1306 1212.7,1306.2C1218.5,1306.4 1230.3,1307.7 1233,1306.5C1235.7,1305.3 1234.7,1298.1 1236,1296C1237.3,1293.9 1241.4,1289.5 1244,1288.5C1246.6,1287.5 1256.7,1284.8 1258.4,1287C1260.1,1289.2 1258.3,1301.9 1258.4,1307.6C1258.5,1313.3 1259.6,1330.5 1259.3,1335.8C1259,1341.1 1257.9,1349 1255.5,1352.7C1253.1,1356.4 1241,1365.1 1238.6,1367.7C1236.2,1370.3 1236.4,1373 1234.9,1375.2C1233.4,1377.4 1228.8,1384.9 1225.5,1386.5C1222.2,1388.1 1211.1,1389.5 1206.7,1389.3C1202.3,1389.1 1193.4,1386.7 1187.9,1384.6C1182.4,1382.5 1165.8,1374.3 1159.7,1371.5C1153.6,1368.7 1140.8,1360.9 1135.3,1360.2C1129.8,1359.5 1118.6,1364 1112.7,1365.8C1106.8,1367.5 1091.2,1373.3 1084.6,1375.2C1078,1377.1 1061.9,1381 1056.4,1381.8C1050.9,1382.6 1041.3,1382.6 1037.6,1381.8C1033.9,1381 1026.8,1377.7 1024.4,1375.2C1022,1372.7 1018.1,1364.8 1016.9,1360.2C1015.7,1355.6 1014.4,1342.9 1014.1,1335.8C1013.8,1328.7 1012.5,1303.4 1014.3,1299.4Z" fill="url(#eup_front)"/><ellipse cx="1253" cy="1296" rx="6" ry="10" fill="url(#red_spot)"/><ellipse cx="1250" cy="1313" rx="8" ry="7" fill="url(#white_spot)"/><path d="M1015,1299.1C1018.5,1292.1 1028.7,1295.4 1035,1294C1041.3,1292.6 1049.3,1292.5 1052.6,1290.7C1055.8,1288.9 1050.7,1284.9 1054.5,1283.2C1058.3,1281.5 1065.5,1280.5 1075.2,1280.3C1084.9,1280.1 1101.8,1280.9 1112.7,1282.2C1123.7,1283.5 1131.5,1287.4 1140.9,1287.9C1150.3,1288.4 1158.1,1285.7 1169.1,1285C1180.1,1284.3 1194.2,1283.8 1206.7,1283.5C1219.2,1283.2 1236,1283.1 1244.3,1283.5C1252.6,1283.9 1254.2,1282 1256.5,1286C1258.8,1290 1257.9,1299.3 1258.4,1307.6C1258.9,1315.9 1259.8,1328.3 1259.3,1335.8C1258.8,1343.3 1259,1347.4 1255.5,1352.7C1252,1358 1242,1364 1238.6,1367.7C1235.2,1371.5 1237.1,1372.1 1234.9,1375.2C1232.7,1378.3 1230.2,1384.2 1225.5,1386.5C1220.8,1388.8 1213,1389.6 1206.7,1389.3C1200.4,1389 1195.7,1387.6 1187.9,1384.6C1180.1,1381.6 1168.5,1375.6 1159.7,1371.5C1150.9,1367.4 1143.1,1361.2 1135.3,1360.2C1127.5,1359.2 1121.2,1363.3 1112.7,1365.8C1104.2,1368.3 1094,1372.5 1084.6,1375.2C1075.2,1377.9 1064.2,1380.7 1056.4,1381.8C1048.6,1382.9 1042.9,1382.9 1037.6,1381.8C1032.3,1380.7 1027.9,1378.8 1024.4,1375.2C1021,1371.6 1018.6,1366.8 1016.9,1360.2C1015.2,1353.6 1014.4,1346 1014.1,1335.8C1013.8,1325.6 1011.5,1306.1 1015,1299.1Z" fill="url(#eup_v)"/><path d="M1015,1299.1C1018.5,1292.1 1028.7,1295.4 1035,1294C1041.3,1292.6 1049.3,1292.5 1052.6,1290.7C1055.8,1288.9 1050.7,1284.9 1054.5,1283.2C1058.3,1281.5 1065.5,1280.5 1075.2,1280.3C1084.9,1280.1 1101.8,1280.9 1112.7,1282.2C1123.7,1283.5 1131.5,1287.4 1140.9,1287.9C1150.3,1288.4 1158.1,1285.7 1169.1,1285C1180.1,1284.3 1194.2,1283.8 1206.7,1283.5C1219.2,1283.2 1236,1283.1 1244.3,1283.5C1252.6,1283.9 1254.2,1282 1256.5,1286C1258.8,1290 1257.9,1299.3 1258.4,1307.6C1258.9,1315.9 1259.8,1328.3 1259.3,1335.8C1258.8,1343.3 1259,1347.4 1255.5,1352.7C1252,1358 1242,1364 1238.6,1367.7C1235.2,1371.5 1237.1,1372.1 1234.9,1375.2C1232.7,1378.3 1230.2,1384.2 1225.5,1386.5C1220.8,1388.8 1213,1389.6 1206.7,1389.3C1200.4,1389 1195.7,1387.6 1187.9,1384.6C1180.1,1381.6 1168.5,1375.6 1159.7,1371.5C1150.9,1367.4 1143.1,1361.2 1135.3,1360.2C1127.5,1359.2 1121.2,1363.3 1112.7,1365.8C1104.2,1368.3 1094,1372.5 1084.6,1375.2C1075.2,1377.9 1064.2,1380.7 1056.4,1381.8C1048.6,1382.9 1042.9,1382.9 1037.6,1381.8C1032.3,1380.7 1027.9,1378.8 1024.4,1375.2C1021,1371.6 1018.6,1366.8 1016.9,1360.2C1015.2,1353.6 1014.4,1346 1014.1,1335.8C1013.8,1325.6 1011.5,1306.1 1015,1299.1Z" fill="none" stroke="#5050f0" stroke-width="2.5" stroke-opacity="0.8"/><path d="M1014.3,1299.4C1016.1,1295.4 1025.2,1301.1 1029.4,1301.3C1033.6,1301.5 1044.9,1301.1 1050,1301C1055.1,1300.9 1067.1,1300.5 1073.2,1300.3C1079.3,1300.1 1096.4,1299.2 1102.4,1298.9C1108.4,1298.6 1119,1297.7 1125,1297.9C1131,1298.1 1147.4,1299.4 1154.2,1300.3C1161,1301.2 1176.7,1304.5 1183.5,1305.2C1190.3,1305.9 1206.9,1306 1212.7,1306.2C1218.5,1306.4 1230.3,1307.7 1233,1306.5C1235.7,1305.3 1234.7,1298.1 1236,1296C1237.3,1293.9 1241.4,1289.5 1244,1288.5C1246.6,1287.5 1256.7,1284.8 1258.4,1287C1260.1,1289.2 1258.3,1301.9 1258.4,1307.6C1258.5,1313.3 1259.6,1330.5 1259.3,1335.8C1259,1341.1 1257.9,1349 1255.5,1352.7C1253.1,1356.4 1241,1365.1 1238.6,1367.7C1236.2,1370.3 1236.4,1373 1234.9,1375.2C1233.4,1377.4 1228.8,1384.9 1225.5,1386.5C1222.2,1388.1 1211.1,1389.5 1206.7,1389.3C1202.3,1389.1 1193.4,1386.7 1187.9,1384.6C1182.4,1382.5 1165.8,1374.3 1159.7,1371.5C1153.6,1368.7 1140.8,1360.9 1135.3,1360.2C1129.8,1359.5 1118.6,1364 1112.7,1365.8C1106.8,1367.5 1091.2,1373.3 1084.6,1375.2C1078,1377.1 1061.9,1381 1056.4,1381.8C1050.9,1382.6 1041.3,1382.6 1037.6,1381.8C1033.9,1381 1026.8,1377.7 1024.4,1375.2C1022,1372.7 1018.1,1364.8 1016.9,1360.2C1015.7,1355.6 1014.4,1342.9 1014.1,1335.8C1013.8,1328.7 1012.5,1303.4 1014.3,1299.4Z" fill="none" stroke="#5050f0" stroke-width="1.5" stroke-opacity="0.7"/></g>
<clipPath id="cp_elo"><path d="M1027.2,1522.5C1029.2,1517.4 1030,1515.8 1035.3,1511.6C1040.6,1507.4 1053.8,1501.3 1058.9,1497.1C1064,1492.9 1062.2,1488.9 1066.1,1486.3C1070,1483.7 1076.7,1481.7 1082.4,1481.2C1088.1,1480.8 1093.9,1480.9 1100.5,1483.6C1107.1,1486.2 1115.3,1492.4 1122.2,1497.1C1129.1,1501.8 1136.7,1509.3 1142.1,1511.6C1147.5,1513.9 1146.6,1513 1154.7,1510.7C1162.8,1508.4 1178.8,1501.5 1190.9,1498C1203,1494.5 1218,1491 1227.1,1489.9C1236.1,1488.9 1240.4,1489.6 1245.2,1491.7C1250,1493.8 1253.7,1497.2 1256.1,1502.6C1258.5,1508 1259.4,1513.4 1259.7,1524.3C1260,1535.2 1261.5,1558.7 1257.9,1567.7C1254.3,1576.8 1241.6,1572.6 1238,1578.6C1234.4,1584.6 1239.5,1598.8 1236.2,1603.9C1232.9,1609 1225.6,1609.2 1218.1,1609.3C1210.5,1609.4 1200,1607.2 1190.9,1604.8C1181.9,1602.4 1172.8,1598 1163.8,1594.8C1154.8,1591.6 1147.2,1586.5 1136.7,1585.8C1126.2,1585 1112.6,1588.8 1100.5,1590.3C1088.4,1591.8 1074.9,1594 1064.3,1594.8C1053.7,1595.5 1043.3,1595.7 1037.1,1594.8C1030.9,1593.9 1029.5,1598.1 1027.2,1589.4C1025,1580.7 1023.6,1553.6 1023.6,1542.4C1023.6,1531.2 1025.2,1527.6 1027.2,1522.5Z"/></clipPath><g clip-path="url(#cp_elo)"><path d="M1027.2,1522.5C1029.2,1517.4 1030,1515.8 1035.3,1511.6C1040.6,1507.4 1053.8,1501.3 1058.9,1497.1C1064,1492.9 1062.2,1488.9 1066.1,1486.3C1070,1483.7 1076.7,1481.7 1082.4,1481.2C1088.1,1480.8 1093.9,1480.9 1100.5,1483.6C1107.1,1486.2 1115.3,1492.4 1122.2,1497.1C1129.1,1501.8 1136.7,1509.3 1142.1,1511.6C1147.5,1513.9 1146.6,1513 1154.7,1510.7C1162.8,1508.4 1178.8,1501.5 1190.9,1498C1203,1494.5 1218,1491 1227.1,1489.9C1236.1,1488.9 1240.4,1489.6 1245.2,1491.7C1250,1493.8 1253.7,1497.2 1256.1,1502.6C1258.5,1508 1259.4,1513.4 1259.7,1524.3C1260,1535.2 1261.5,1558.7 1257.9,1567.7C1254.3,1576.8 1241.6,1572.6 1238,1578.6C1234.4,1584.6 1239.5,1598.8 1236.2,1603.9C1232.9,1609 1225.6,1609.2 1218.1,1609.3C1210.5,1609.4 1200,1607.2 1190.9,1604.8C1181.9,1602.4 1172.8,1598 1163.8,1594.8C1154.8,1591.6 1147.2,1586.5 1136.7,1585.8C1126.2,1585 1112.6,1588.8 1100.5,1590.3C1088.4,1591.8 1074.9,1594 1064.3,1594.8C1053.7,1595.5 1043.3,1595.7 1037.1,1594.8C1030.9,1593.9 1029.5,1598.1 1027.2,1589.4C1025,1580.7 1023.6,1553.6 1023.6,1542.4C1023.6,1531.2 1025.2,1527.6 1027.2,1522.5Z" fill="url(#elo_g)"/><ellipse cx="1254" cy="1560" rx="6" ry="12" fill="url(#red_spot)"/><ellipse cx="1236" cy="1595" rx="3" ry="10" fill="url(#red_spot)" opacity="0.8"/><ellipse cx="1228" cy="1500" rx="10" ry="7" fill="url(#white_spot)" opacity="0.7"/><path d="M1027.2,1522.5C1029.2,1517.4 1030,1515.8 1035.3,1511.6C1040.6,1507.4 1053.8,1501.3 1058.9,1497.1C1064,1492.9 1062.2,1488.9 1066.1,1486.3C1070,1483.7 1076.7,1481.7 1082.4,1481.2C1088.1,1480.8 1093.9,1480.9 1100.5,1483.6C1107.1,1486.2 1115.3,1492.4 1122.2,1497.1C1129.1,1501.8 1136.7,1509.3 1142.1,1511.6C1147.5,1513.9 1146.6,1513 1154.7,1510.7C1162.8,1508.4 1178.8,1501.5 1190.9,1498C1203,1494.5 1218,1491 1227.1,1489.9C1236.1,1488.9 1240.4,1489.6 1245.2,1491.7C1250,1493.8 1253.7,1497.2 1256.1,1502.6C1258.5,1508 1259.4,1513.4 1259.7,1524.3C1260,1535.2 1261.5,1558.7 1257.9,1567.7C1254.3,1576.8 1241.6,1572.6 1238,1578.6C1234.4,1584.6 1239.5,1598.8 1236.2,1603.9C1232.9,1609 1225.6,1609.2 1218.1,1609.3C1210.5,1609.4 1200,1607.2 1190.9,1604.8C1181.9,1602.4 1172.8,1598 1163.8,1594.8C1154.8,1591.6 1147.2,1586.5 1136.7,1585.8C1126.2,1585 1112.6,1588.8 1100.5,1590.3C1088.4,1591.8 1074.9,1594 1064.3,1594.8C1053.7,1595.5 1043.3,1595.7 1037.1,1594.8C1030.9,1593.9 1029.5,1598.1 1027.2,1589.4C1025,1580.7 1023.6,1553.6 1023.6,1542.4C1023.6,1531.2 1025.2,1527.6 1027.2,1522.5Z" fill="url(#elo_v)"/></g>
<path d="M840.8,1315.2L1359.2,1327.8" stroke="#111" stroke-width="4.6" stroke-linecap="round"/>
<path d="M1359.2,1327.8L1404.8,1498.4" stroke="#111" stroke-width="4.6" stroke-linecap="round"/>
<path d="M1404.8,1498.4L1353.3,1655" stroke="#111" stroke-width="4.6" stroke-linecap="round"/>
<path d="M1353.3,1655L862.3,1613.3" stroke="#111" stroke-width="4.6" stroke-linecap="round"/>
<path d="M862.3,1613.3L813.2,1464.5" stroke="#111" stroke-width="4.6" stroke-linecap="round"/>
<path d="M813.2,1464.5L840.8,1315.2" stroke="#111" stroke-width="4.6" stroke-linecap="round"/>
<path d="M840.8,1315.2L978.6,1269.1" stroke="#111" stroke-width="4.1" stroke-linecap="round"/>
<path d="M1359.2,1327.8L1398.9,1275.2" stroke="#111" stroke-width="4.1" stroke-linecap="round"/>
<rect x="170.5" y="1752" width="418.2" height="43" fill="url(#cbd)"/>
<rect x="933.5" y="1751" width="413.5" height="45.4" fill="url(#cbe)"/>
<text x="87.5" y="1742.3" style="font-size:35px;font-weight:bold;fill:#111" textLength="165.5" lengthAdjust="spacingAndGlyphs">2.49e+03</text>
<text x="504.5" y="1742.3" style="font-size:35px;font-weight:bold;fill:#111" textLength="165.5" lengthAdjust="spacingAndGlyphs">4.51e+05</text>
<text x="312.5" y="1731.7" class="sans" style="font-size:29px;fill:#111">τ</text>
<text x="324" y="1737.6" class="sans" style="font-size:21.5px;fill:#111">e-ph</text>
<text x="376" y="1731.7" class="sans" style="font-size:29px;fill:#111">[fs]</text>
<text x="885" y="1743.4" class="sans" style="font-size:33px;fill:#111">0.0165</text>
<text x="1155" y="1743.4" class="sans" style="font-size:33px;fill:#111" text-anchor="middle" textLength="146" lengthAdjust="spacingAndGlyphs">&lt;1-cosθ&gt;</text>
<text x="1405" y="1743.4" class="sans" style="font-size:33px;fill:#111" text-anchor="end">0.684</text>
</svg>
</body></html>
